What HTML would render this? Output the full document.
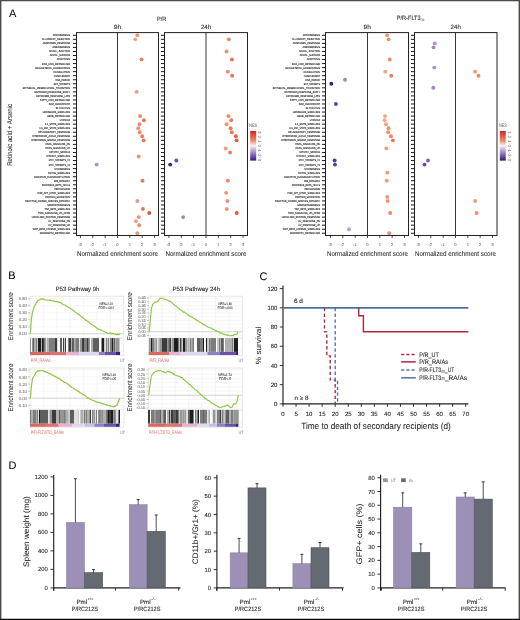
<!DOCTYPE html>
<html><head><meta charset="utf-8"><style>
html,body{margin:0;padding:0;background:#fff;width:520px;height:620px;overflow:hidden}
svg{display:block;font-family:"Liberation Sans", sans-serif}
</style></head><body>
<div style="position:absolute;left:0;top:0;width:520px;height:620px;will-change:transform">
<svg width="520" height="620" viewBox="0 0 520 620" text-rendering="geometricPrecision">
<text x="9.00" y="17.30" font-size="11" text-anchor="start" fill="#000" stroke="#000" stroke-width="0.050"  >A</text>
<text x="161.60" y="21.00" font-size="6.2" text-anchor="middle" fill="#333" stroke="#333" stroke-width="0.100" textLength="9.4" lengthAdjust="spacingAndGlyphs" >P/R</text>
<text x="117.50" y="29.00" font-size="6.2" text-anchor="middle" fill="#333" stroke="#333" stroke-width="0.100" textLength="7.4" lengthAdjust="spacingAndGlyphs" >9h</text>
<text x="206.10" y="29.00" font-size="6.2" text-anchor="middle" fill="#333" stroke="#333" stroke-width="0.100" textLength="10.3" lengthAdjust="spacingAndGlyphs" >24h</text>
<text transform="translate(11.80,134.85) rotate(-90)" font-size="7.0" text-anchor="middle" fill="#231f20" stroke="#231f20" stroke-width="0.060" textLength="62" lengthAdjust="spacingAndGlyphs">Retinoic acid + Arsenic</text>
<g transform="translate(70.00,0) scale(0.854,1)">
<text x="0" y="36.25" font-size="2.7" text-anchor="end" fill="#1e1e1e" stroke="#1e1e1e" stroke-width="0.1">ADIPOGENESIS</text>
<text x="0" y="40.29" font-size="2.7" text-anchor="end" fill="#1e1e1e" stroke="#1e1e1e" stroke-width="0.1">ALLOGRAFT_REJECTION</text>
<text x="0" y="44.33" font-size="2.7" text-anchor="end" fill="#1e1e1e" stroke="#1e1e1e" stroke-width="0.1">ANDROGEN_RESPONSE</text>
<text x="0" y="48.37" font-size="2.7" text-anchor="end" fill="#1e1e1e" stroke="#1e1e1e" stroke-width="0.1">ANGIOGENESIS</text>
<text x="0" y="52.41" font-size="2.7" text-anchor="end" fill="#1e1e1e" stroke="#1e1e1e" stroke-width="0.1">APICAL_JUNCTION</text>
<text x="0" y="56.45" font-size="2.7" text-anchor="end" fill="#1e1e1e" stroke="#1e1e1e" stroke-width="0.1">APICAL_SURFACE</text>
<text x="0" y="60.49" font-size="2.7" text-anchor="end" fill="#1e1e1e" stroke="#1e1e1e" stroke-width="0.1">APOPTOSIS</text>
<text x="0" y="64.53" font-size="2.7" text-anchor="end" fill="#1e1e1e" stroke="#1e1e1e" stroke-width="0.1">BILE_ACID_METABOLISM</text>
<text x="0" y="68.57" font-size="2.7" text-anchor="end" fill="#1e1e1e" stroke="#1e1e1e" stroke-width="0.1">CHOLESTEROL_HOMEOSTASIS</text>
<text x="0" y="72.61" font-size="2.7" text-anchor="end" fill="#1e1e1e" stroke="#1e1e1e" stroke-width="0.1">COAGULATION</text>
<text x="0" y="76.65" font-size="2.7" text-anchor="end" fill="#1e1e1e" stroke="#1e1e1e" stroke-width="0.1">COMPLEMENT</text>
<text x="0" y="80.69" font-size="2.7" text-anchor="end" fill="#1e1e1e" stroke="#1e1e1e" stroke-width="0.1">DNA_REPAIR</text>
<text x="0" y="84.73" font-size="2.7" text-anchor="end" fill="#1e1e1e" stroke="#1e1e1e" stroke-width="0.1">E2F_TARGETS</text>
<text x="0" y="88.77" font-size="2.7" text-anchor="end" fill="#1e1e1e" stroke="#1e1e1e" stroke-width="0.1">EPITHELIAL_MESENCHYMAL_TRANSITION</text>
<text x="0" y="92.81" font-size="2.7" text-anchor="end" fill="#1e1e1e" stroke="#1e1e1e" stroke-width="0.1">ESTROGEN_RESPONSE_EARLY</text>
<text x="0" y="96.85" font-size="2.7" text-anchor="end" fill="#1e1e1e" stroke="#1e1e1e" stroke-width="0.1">ESTROGEN_RESPONSE_LATE</text>
<text x="0" y="100.89" font-size="2.7" text-anchor="end" fill="#1e1e1e" stroke="#1e1e1e" stroke-width="0.1">FATTY_ACID_METABOLISM</text>
<text x="0" y="104.93" font-size="2.7" text-anchor="end" fill="#1e1e1e" stroke="#1e1e1e" stroke-width="0.1">G2M_CHECKPOINT</text>
<text x="0" y="108.97" font-size="2.7" text-anchor="end" fill="#1e1e1e" stroke="#1e1e1e" stroke-width="0.1">GLYCOLYSIS</text>
<text x="0" y="113.01" font-size="2.7" text-anchor="end" fill="#1e1e1e" stroke="#1e1e1e" stroke-width="0.1">HEDGEHOG_SIGNALING</text>
<text x="0" y="117.05" font-size="2.7" text-anchor="end" fill="#1e1e1e" stroke="#1e1e1e" stroke-width="0.1">HEME_METABOLISM</text>
<text x="0" y="121.09" font-size="2.7" text-anchor="end" fill="#1e1e1e" stroke="#1e1e1e" stroke-width="0.1">HYPOXIA</text>
<text x="0" y="125.13" font-size="2.7" text-anchor="end" fill="#1e1e1e" stroke="#1e1e1e" stroke-width="0.1">IL2_STAT5_SIGNALING</text>
<text x="0" y="129.17" font-size="2.7" text-anchor="end" fill="#1e1e1e" stroke="#1e1e1e" stroke-width="0.1">IL6_JAK_STAT3_SIGNALING</text>
<text x="0" y="133.21" font-size="2.7" text-anchor="end" fill="#1e1e1e" stroke="#1e1e1e" stroke-width="0.1">INFLAMMATORY_RESPONSE</text>
<text x="0" y="137.25" font-size="2.7" text-anchor="end" fill="#1e1e1e" stroke="#1e1e1e" stroke-width="0.1">INTERFERON_ALPHA_RESPONSE</text>
<text x="0" y="141.29" font-size="2.7" text-anchor="end" fill="#1e1e1e" stroke="#1e1e1e" stroke-width="0.1">INTERFERON_GAMMA_RESPONSE</text>
<text x="0" y="145.33" font-size="2.7" text-anchor="end" fill="#1e1e1e" stroke="#1e1e1e" stroke-width="0.1">KRAS_SIGNALING_DN</text>
<text x="0" y="149.37" font-size="2.7" text-anchor="end" fill="#1e1e1e" stroke="#1e1e1e" stroke-width="0.1">KRAS_SIGNALING_UP</text>
<text x="0" y="153.41" font-size="2.7" text-anchor="end" fill="#1e1e1e" stroke="#1e1e1e" stroke-width="0.1">MITOTIC_SPINDLE</text>
<text x="0" y="157.45" font-size="2.7" text-anchor="end" fill="#1e1e1e" stroke="#1e1e1e" stroke-width="0.1">MTORC1_SIGNALING</text>
<text x="0" y="161.49" font-size="2.7" text-anchor="end" fill="#1e1e1e" stroke="#1e1e1e" stroke-width="0.1">MYC_TARGETS_V1</text>
<text x="0" y="165.53" font-size="2.7" text-anchor="end" fill="#1e1e1e" stroke="#1e1e1e" stroke-width="0.1">MYC_TARGETS_V2</text>
<text x="0" y="169.57" font-size="2.7" text-anchor="end" fill="#1e1e1e" stroke="#1e1e1e" stroke-width="0.1">MYOGENESIS</text>
<text x="0" y="173.61" font-size="2.7" text-anchor="end" fill="#1e1e1e" stroke="#1e1e1e" stroke-width="0.1">NOTCH_SIGNALING</text>
<text x="0" y="177.65" font-size="2.7" text-anchor="end" fill="#1e1e1e" stroke="#1e1e1e" stroke-width="0.1">OXIDATIVE_PHOSPHORYLATION</text>
<text x="0" y="181.69" font-size="2.7" text-anchor="end" fill="#1e1e1e" stroke="#1e1e1e" stroke-width="0.1">P53_PATHWAY</text>
<text x="0" y="185.73" font-size="2.7" text-anchor="end" fill="#1e1e1e" stroke="#1e1e1e" stroke-width="0.1">PANCREAS_BETA_CELLS</text>
<text x="0" y="189.77" font-size="2.7" text-anchor="end" fill="#1e1e1e" stroke="#1e1e1e" stroke-width="0.1">PEROXISOME</text>
<text x="0" y="193.81" font-size="2.7" text-anchor="end" fill="#1e1e1e" stroke="#1e1e1e" stroke-width="0.1">PI3K_AKT_MTOR_SIGNALING</text>
<text x="0" y="197.85" font-size="2.7" text-anchor="end" fill="#1e1e1e" stroke="#1e1e1e" stroke-width="0.1">PROTEIN_SECRETION</text>
<text x="0" y="201.89" font-size="2.7" text-anchor="end" fill="#1e1e1e" stroke="#1e1e1e" stroke-width="0.1">REACTIVE_OXIGEN_SPECIES_PATHWAY</text>
<text x="0" y="205.93" font-size="2.7" text-anchor="end" fill="#1e1e1e" stroke="#1e1e1e" stroke-width="0.1">SPERMATOGENESIS</text>
<text x="0" y="209.97" font-size="2.7" text-anchor="end" fill="#1e1e1e" stroke="#1e1e1e" stroke-width="0.1">TGF_BETA_SIGNALING</text>
<text x="0" y="214.01" font-size="2.7" text-anchor="end" fill="#1e1e1e" stroke="#1e1e1e" stroke-width="0.1">TNFA_SIGNALING_VIA_NFKB</text>
<text x="0" y="218.05" font-size="2.7" text-anchor="end" fill="#1e1e1e" stroke="#1e1e1e" stroke-width="0.1">UNFOLDED_PROTEIN_RESPONSE</text>
<text x="0" y="222.09" font-size="2.7" text-anchor="end" fill="#1e1e1e" stroke="#1e1e1e" stroke-width="0.1">UV_RESPONSE_DN</text>
<text x="0" y="226.13" font-size="2.7" text-anchor="end" fill="#1e1e1e" stroke="#1e1e1e" stroke-width="0.1">UV_RESPONSE_UP</text>
<text x="0" y="230.17" font-size="2.7" text-anchor="end" fill="#1e1e1e" stroke="#1e1e1e" stroke-width="0.1">WNT_BETA_CATENIN_SIGNALING</text>
<text x="0" y="234.21" font-size="2.7" text-anchor="end" fill="#1e1e1e" stroke="#1e1e1e" stroke-width="0.1">XENOBIOTIC_METABOLISM</text>
</g>
<rect x="76.50" y="32.60" width="82.00" height="202.90" fill="none" stroke="#231f20" stroke-width="1.0"/>
<line x1="117.50" y1="32.60" x2="117.50" y2="235.50" stroke="#231f20" stroke-width="0.9" />
<path d="M72.90 35.30H76.50 M72.90 39.34H76.50 M72.90 43.38H76.50 M72.90 47.42H76.50 M72.90 51.46H76.50 M72.90 55.50H76.50 M72.90 59.54H76.50 M72.90 63.58H76.50 M72.90 67.62H76.50 M72.90 71.66H76.50 M72.90 75.70H76.50 M72.90 79.74H76.50 M72.90 83.78H76.50 M72.90 87.82H76.50 M72.90 91.86H76.50 M72.90 95.90H76.50 M72.90 99.94H76.50 M72.90 103.98H76.50 M72.90 108.02H76.50 M72.90 112.06H76.50 M72.90 116.10H76.50 M72.90 120.14H76.50 M72.90 124.18H76.50 M72.90 128.22H76.50 M72.90 132.26H76.50 M72.90 136.30H76.50 M72.90 140.34H76.50 M72.90 144.38H76.50 M72.90 148.42H76.50 M72.90 152.46H76.50 M72.90 156.50H76.50 M72.90 160.54H76.50 M72.90 164.58H76.50 M72.90 168.62H76.50 M72.90 172.66H76.50 M72.90 176.70H76.50 M72.90 180.74H76.50 M72.90 184.78H76.50 M72.90 188.82H76.50 M72.90 192.86H76.50 M72.90 196.90H76.50 M72.90 200.94H76.50 M72.90 204.98H76.50 M72.90 209.02H76.50 M72.90 213.06H76.50 M72.90 217.10H76.50 M72.90 221.14H76.50 M72.90 225.18H76.50 M72.90 229.22H76.50 M72.90 233.26H76.50" stroke="#1a1a1a" stroke-width="1.0"/>
<path d="M80.45 235.50V238.10 M92.80 235.50V238.10 M105.15 235.50V238.10 M117.50 235.50V238.10 M129.85 235.50V238.10 M142.20 235.50V238.10 M154.55 235.50V238.10" stroke="#231f20" stroke-width="0.8"/>
<text x="79.95" y="245.70" font-size="4.1" text-anchor="middle" fill="#707070" stroke="#707070" stroke-width="0.100"  >-3</text>
<text x="92.30" y="245.70" font-size="4.1" text-anchor="middle" fill="#707070" stroke="#707070" stroke-width="0.100"  >-2</text>
<text x="104.65" y="245.70" font-size="4.1" text-anchor="middle" fill="#707070" stroke="#707070" stroke-width="0.100"  >-1</text>
<text x="117.50" y="245.70" font-size="4.1" text-anchor="middle" fill="#707070" stroke="#707070" stroke-width="0.100"  >0</text>
<text x="129.85" y="245.70" font-size="4.1" text-anchor="middle" fill="#707070" stroke="#707070" stroke-width="0.100"  >1</text>
<text x="142.20" y="245.70" font-size="4.1" text-anchor="middle" fill="#707070" stroke="#707070" stroke-width="0.100"  >2</text>
<text x="154.55" y="245.70" font-size="4.1" text-anchor="middle" fill="#707070" stroke="#707070" stroke-width="0.100"  >3</text>
<text x="117.50" y="255.80" font-size="7.0" text-anchor="middle" fill="#231f20" stroke="#231f20" stroke-width="0.060" textLength="81.2" lengthAdjust="spacingAndGlyphs" >Normalized enrichment score</text>
<circle cx="137.38" cy="35.30" r="1.95" fill="#f19578"/>
<circle cx="135.28" cy="39.34" r="1.95" fill="#f2a286"/>
<circle cx="141.58" cy="59.54" r="1.95" fill="#ee7e5e"/>
<circle cx="136.64" cy="91.86" r="1.95" fill="#f29a7c"/>
<circle cx="140.10" cy="116.10" r="1.95" fill="#ef8667"/>
<circle cx="143.93" cy="120.14" r="1.95" fill="#eb7051"/>
<circle cx="139.48" cy="124.18" r="1.95" fill="#f0896b"/>
<circle cx="138.25" cy="128.22" r="1.95" fill="#f19072"/>
<circle cx="139.73" cy="132.26" r="1.95" fill="#f08869"/>
<circle cx="142.20" cy="136.30" r="1.95" fill="#ee7a5a"/>
<circle cx="143.68" cy="140.34" r="1.95" fill="#ec7253"/>
<circle cx="138.74" cy="156.50" r="1.95" fill="#f08e6f"/>
<circle cx="96.63" cy="164.58" r="1.95" fill="#ab8fcb"/>
<circle cx="142.57" cy="180.74" r="1.95" fill="#ed7858"/>
<circle cx="137.38" cy="200.94" r="1.95" fill="#f19578"/>
<circle cx="142.94" cy="209.02" r="1.95" fill="#ed7656"/>
<circle cx="149.24" cy="213.06" r="1.95" fill="#e15037"/>
<circle cx="138.74" cy="217.10" r="1.95" fill="#f08e6f"/>
<circle cx="135.90" cy="221.14" r="1.95" fill="#f29e81"/>
<circle cx="139.24" cy="225.18" r="1.95" fill="#f08b6c"/>
<circle cx="137.38" cy="233.26" r="1.95" fill="#f19578"/>
<rect x="164.50" y="32.60" width="83.00" height="202.90" fill="none" stroke="#231f20" stroke-width="1.0"/>
<line x1="206.00" y1="32.60" x2="206.00" y2="235.50" stroke="#231f20" stroke-width="0.9" />
<path d="M160.90 35.30H164.50 M160.90 39.34H164.50 M160.90 43.38H164.50 M160.90 47.42H164.50 M160.90 51.46H164.50 M160.90 55.50H164.50 M160.90 59.54H164.50 M160.90 63.58H164.50 M160.90 67.62H164.50 M160.90 71.66H164.50 M160.90 75.70H164.50 M160.90 79.74H164.50 M160.90 83.78H164.50 M160.90 87.82H164.50 M160.90 91.86H164.50 M160.90 95.90H164.50 M160.90 99.94H164.50 M160.90 103.98H164.50 M160.90 108.02H164.50 M160.90 112.06H164.50 M160.90 116.10H164.50 M160.90 120.14H164.50 M160.90 124.18H164.50 M160.90 128.22H164.50 M160.90 132.26H164.50 M160.90 136.30H164.50 M160.90 140.34H164.50 M160.90 144.38H164.50 M160.90 148.42H164.50 M160.90 152.46H164.50 M160.90 156.50H164.50 M160.90 160.54H164.50 M160.90 164.58H164.50 M160.90 168.62H164.50 M160.90 172.66H164.50 M160.90 176.70H164.50 M160.90 180.74H164.50 M160.90 184.78H164.50 M160.90 188.82H164.50 M160.90 192.86H164.50 M160.90 196.90H164.50 M160.90 200.94H164.50 M160.90 204.98H164.50 M160.90 209.02H164.50 M160.90 213.06H164.50 M160.90 217.10H164.50 M160.90 221.14H164.50 M160.90 225.18H164.50 M160.90 229.22H164.50 M160.90 233.26H164.50" stroke="#1a1a1a" stroke-width="1.0"/>
<path d="M168.95 235.50V238.10 M181.30 235.50V238.10 M193.65 235.50V238.10 M206.00 235.50V238.10 M218.35 235.50V238.10 M230.70 235.50V238.10 M243.05 235.50V238.10" stroke="#231f20" stroke-width="0.8"/>
<text x="168.45" y="245.70" font-size="4.1" text-anchor="middle" fill="#707070" stroke="#707070" stroke-width="0.100"  >-3</text>
<text x="180.80" y="245.70" font-size="4.1" text-anchor="middle" fill="#707070" stroke="#707070" stroke-width="0.100"  >-2</text>
<text x="193.15" y="245.70" font-size="4.1" text-anchor="middle" fill="#707070" stroke="#707070" stroke-width="0.100"  >-1</text>
<text x="206.00" y="245.70" font-size="4.1" text-anchor="middle" fill="#707070" stroke="#707070" stroke-width="0.100"  >0</text>
<text x="218.35" y="245.70" font-size="4.1" text-anchor="middle" fill="#707070" stroke="#707070" stroke-width="0.100"  >1</text>
<text x="230.70" y="245.70" font-size="4.1" text-anchor="middle" fill="#707070" stroke="#707070" stroke-width="0.100"  >2</text>
<text x="243.05" y="245.70" font-size="4.1" text-anchor="middle" fill="#707070" stroke="#707070" stroke-width="0.100"  >3</text>
<text x="206.00" y="255.80" font-size="7.0" text-anchor="middle" fill="#231f20" stroke="#231f20" stroke-width="0.060" textLength="81.2" lengthAdjust="spacingAndGlyphs" >Normalized enrichment score</text>
<circle cx="228.85" cy="39.34" r="1.95" fill="#ef8465"/>
<circle cx="226.62" cy="51.46" r="1.95" fill="#f19173"/>
<circle cx="231.94" cy="59.54" r="1.95" fill="#ec7354"/>
<circle cx="227.86" cy="71.66" r="1.95" fill="#f08a6b"/>
<circle cx="232.18" cy="75.70" r="1.95" fill="#ec7253"/>
<circle cx="228.48" cy="116.10" r="1.95" fill="#ef8768"/>
<circle cx="231.32" cy="120.14" r="1.95" fill="#ed7757"/>
<circle cx="226.50" cy="124.18" r="1.95" fill="#f19274"/>
<circle cx="230.58" cy="128.22" r="1.95" fill="#ee7b5b"/>
<circle cx="231.81" cy="132.26" r="1.95" fill="#ec7454"/>
<circle cx="235.89" cy="136.30" r="1.95" fill="#e65d40"/>
<circle cx="236.63" cy="140.34" r="1.95" fill="#e5583c"/>
<circle cx="225.76" cy="148.42" r="1.95" fill="#f19678"/>
<circle cx="230.08" cy="152.46" r="1.95" fill="#ee7e5e"/>
<circle cx="176.36" cy="160.54" r="1.95" fill="#744fad"/>
<circle cx="170.19" cy="164.58" r="1.95" fill="#382382"/>
<circle cx="227.86" cy="180.74" r="1.95" fill="#f08a6b"/>
<circle cx="226.13" cy="192.86" r="1.95" fill="#f19476"/>
<circle cx="227.37" cy="200.94" r="1.95" fill="#f08d6f"/>
<circle cx="226.75" cy="209.02" r="1.95" fill="#f19072"/>
<circle cx="236.75" cy="213.06" r="1.95" fill="#e5583c"/>
<circle cx="183.15" cy="217.10" r="1.95" fill="#a081c5"/>
<defs><linearGradient id="g250" x1="0" y1="0" x2="0" y2="1"><stop offset="0" stop-color="#c8281e"/><stop offset="0.33" stop-color="#ee8a6a"/><stop offset="0.5" stop-color="#f7f3f2"/><stop offset="0.67" stop-color="#b8a0d2"/><stop offset="1" stop-color="#2b1a78"/></linearGradient></defs>
<rect x="250.20" y="130.90" width="6.00" height="29.70" fill="url(#g250)" />
<text x="249.30" y="127.30" font-size="5.0" text-anchor="start" fill="#777" stroke="#777" stroke-width="0.100" textLength="7.8" lengthAdjust="spacingAndGlyphs" >NES</text>
<text transform="translate(257.90,132.20) rotate(90)" font-size="4.4" text-anchor="middle" fill="#777" stroke="#777" stroke-width="0.05">3</text>
<text transform="translate(257.90,136.67) rotate(90)" font-size="4.4" text-anchor="middle" fill="#777" stroke="#777" stroke-width="0.05">2</text>
<text transform="translate(257.90,141.14) rotate(90)" font-size="4.4" text-anchor="middle" fill="#777" stroke="#777" stroke-width="0.05">1</text>
<text transform="translate(257.90,145.61) rotate(90)" font-size="4.4" text-anchor="middle" fill="#777" stroke="#777" stroke-width="0.05">0</text>
<text transform="translate(257.90,150.08) rotate(90)" font-size="4.4" text-anchor="middle" fill="#777" stroke="#777" stroke-width="0.05">-1</text>
<text transform="translate(257.90,154.55) rotate(90)" font-size="4.4" text-anchor="middle" fill="#777" stroke="#777" stroke-width="0.05">-2</text>
<text transform="translate(257.90,159.02) rotate(90)" font-size="4.4" text-anchor="middle" fill="#777" stroke="#777" stroke-width="0.05">-3</text>
<text x="396.80" y="20.40" font-size="6.3" text-anchor="start" fill="#333" stroke="#333" stroke-width="0.100" textLength="23.8" lengthAdjust="spacingAndGlyphs" >P/R-FLT3</text>
<text x="420.80" y="20.80" font-size="3.3" text-anchor="start" fill="#555" stroke="#555" stroke-width="0.100" textLength="3.4" lengthAdjust="spacingAndGlyphs" >ITD</text>
<text x="367.20" y="29.00" font-size="6.2" text-anchor="middle" fill="#333" stroke="#333" stroke-width="0.100" textLength="7.4" lengthAdjust="spacingAndGlyphs" >9h</text>
<text x="455.70" y="29.00" font-size="6.2" text-anchor="middle" fill="#333" stroke="#333" stroke-width="0.100" textLength="10.3" lengthAdjust="spacingAndGlyphs" >24h</text>
<g transform="translate(320.00,0) scale(0.854,1)">
<text x="0" y="36.25" font-size="2.7" text-anchor="end" fill="#1e1e1e" stroke="#1e1e1e" stroke-width="0.1">ADIPOGENESIS</text>
<text x="0" y="40.29" font-size="2.7" text-anchor="end" fill="#1e1e1e" stroke="#1e1e1e" stroke-width="0.1">ALLOGRAFT_REJECTION</text>
<text x="0" y="44.33" font-size="2.7" text-anchor="end" fill="#1e1e1e" stroke="#1e1e1e" stroke-width="0.1">ANDROGEN_RESPONSE</text>
<text x="0" y="48.37" font-size="2.7" text-anchor="end" fill="#1e1e1e" stroke="#1e1e1e" stroke-width="0.1">ANGIOGENESIS</text>
<text x="0" y="52.41" font-size="2.7" text-anchor="end" fill="#1e1e1e" stroke="#1e1e1e" stroke-width="0.1">APICAL_JUNCTION</text>
<text x="0" y="56.45" font-size="2.7" text-anchor="end" fill="#1e1e1e" stroke="#1e1e1e" stroke-width="0.1">APICAL_SURFACE</text>
<text x="0" y="60.49" font-size="2.7" text-anchor="end" fill="#1e1e1e" stroke="#1e1e1e" stroke-width="0.1">APOPTOSIS</text>
<text x="0" y="64.53" font-size="2.7" text-anchor="end" fill="#1e1e1e" stroke="#1e1e1e" stroke-width="0.1">BILE_ACID_METABOLISM</text>
<text x="0" y="68.57" font-size="2.7" text-anchor="end" fill="#1e1e1e" stroke="#1e1e1e" stroke-width="0.1">CHOLESTEROL_HOMEOSTASIS</text>
<text x="0" y="72.61" font-size="2.7" text-anchor="end" fill="#1e1e1e" stroke="#1e1e1e" stroke-width="0.1">COAGULATION</text>
<text x="0" y="76.65" font-size="2.7" text-anchor="end" fill="#1e1e1e" stroke="#1e1e1e" stroke-width="0.1">COMPLEMENT</text>
<text x="0" y="80.69" font-size="2.7" text-anchor="end" fill="#1e1e1e" stroke="#1e1e1e" stroke-width="0.1">DNA_REPAIR</text>
<text x="0" y="84.73" font-size="2.7" text-anchor="end" fill="#1e1e1e" stroke="#1e1e1e" stroke-width="0.1">E2F_TARGETS</text>
<text x="0" y="88.77" font-size="2.7" text-anchor="end" fill="#1e1e1e" stroke="#1e1e1e" stroke-width="0.1">EPITHELIAL_MESENCHYMAL_TRANSITION</text>
<text x="0" y="92.81" font-size="2.7" text-anchor="end" fill="#1e1e1e" stroke="#1e1e1e" stroke-width="0.1">ESTROGEN_RESPONSE_EARLY</text>
<text x="0" y="96.85" font-size="2.7" text-anchor="end" fill="#1e1e1e" stroke="#1e1e1e" stroke-width="0.1">ESTROGEN_RESPONSE_LATE</text>
<text x="0" y="100.89" font-size="2.7" text-anchor="end" fill="#1e1e1e" stroke="#1e1e1e" stroke-width="0.1">FATTY_ACID_METABOLISM</text>
<text x="0" y="104.93" font-size="2.7" text-anchor="end" fill="#1e1e1e" stroke="#1e1e1e" stroke-width="0.1">G2M_CHECKPOINT</text>
<text x="0" y="108.97" font-size="2.7" text-anchor="end" fill="#1e1e1e" stroke="#1e1e1e" stroke-width="0.1">GLYCOLYSIS</text>
<text x="0" y="113.01" font-size="2.7" text-anchor="end" fill="#1e1e1e" stroke="#1e1e1e" stroke-width="0.1">HEDGEHOG_SIGNALING</text>
<text x="0" y="117.05" font-size="2.7" text-anchor="end" fill="#1e1e1e" stroke="#1e1e1e" stroke-width="0.1">HEME_METABOLISM</text>
<text x="0" y="121.09" font-size="2.7" text-anchor="end" fill="#1e1e1e" stroke="#1e1e1e" stroke-width="0.1">HYPOXIA</text>
<text x="0" y="125.13" font-size="2.7" text-anchor="end" fill="#1e1e1e" stroke="#1e1e1e" stroke-width="0.1">IL2_STAT5_SIGNALING</text>
<text x="0" y="129.17" font-size="2.7" text-anchor="end" fill="#1e1e1e" stroke="#1e1e1e" stroke-width="0.1">IL6_JAK_STAT3_SIGNALING</text>
<text x="0" y="133.21" font-size="2.7" text-anchor="end" fill="#1e1e1e" stroke="#1e1e1e" stroke-width="0.1">INFLAMMATORY_RESPONSE</text>
<text x="0" y="137.25" font-size="2.7" text-anchor="end" fill="#1e1e1e" stroke="#1e1e1e" stroke-width="0.1">INTERFERON_ALPHA_RESPONSE</text>
<text x="0" y="141.29" font-size="2.7" text-anchor="end" fill="#1e1e1e" stroke="#1e1e1e" stroke-width="0.1">INTERFERON_GAMMA_RESPONSE</text>
<text x="0" y="145.33" font-size="2.7" text-anchor="end" fill="#1e1e1e" stroke="#1e1e1e" stroke-width="0.1">KRAS_SIGNALING_DN</text>
<text x="0" y="149.37" font-size="2.7" text-anchor="end" fill="#1e1e1e" stroke="#1e1e1e" stroke-width="0.1">KRAS_SIGNALING_UP</text>
<text x="0" y="153.41" font-size="2.7" text-anchor="end" fill="#1e1e1e" stroke="#1e1e1e" stroke-width="0.1">MITOTIC_SPINDLE</text>
<text x="0" y="157.45" font-size="2.7" text-anchor="end" fill="#1e1e1e" stroke="#1e1e1e" stroke-width="0.1">MTORC1_SIGNALING</text>
<text x="0" y="161.49" font-size="2.7" text-anchor="end" fill="#1e1e1e" stroke="#1e1e1e" stroke-width="0.1">MYC_TARGETS_V1</text>
<text x="0" y="165.53" font-size="2.7" text-anchor="end" fill="#1e1e1e" stroke="#1e1e1e" stroke-width="0.1">MYC_TARGETS_V2</text>
<text x="0" y="169.57" font-size="2.7" text-anchor="end" fill="#1e1e1e" stroke="#1e1e1e" stroke-width="0.1">MYOGENESIS</text>
<text x="0" y="173.61" font-size="2.7" text-anchor="end" fill="#1e1e1e" stroke="#1e1e1e" stroke-width="0.1">NOTCH_SIGNALING</text>
<text x="0" y="177.65" font-size="2.7" text-anchor="end" fill="#1e1e1e" stroke="#1e1e1e" stroke-width="0.1">OXIDATIVE_PHOSPHORYLATION</text>
<text x="0" y="181.69" font-size="2.7" text-anchor="end" fill="#1e1e1e" stroke="#1e1e1e" stroke-width="0.1">P53_PATHWAY</text>
<text x="0" y="185.73" font-size="2.7" text-anchor="end" fill="#1e1e1e" stroke="#1e1e1e" stroke-width="0.1">PANCREAS_BETA_CELLS</text>
<text x="0" y="189.77" font-size="2.7" text-anchor="end" fill="#1e1e1e" stroke="#1e1e1e" stroke-width="0.1">PEROXISOME</text>
<text x="0" y="193.81" font-size="2.7" text-anchor="end" fill="#1e1e1e" stroke="#1e1e1e" stroke-width="0.1">PI3K_AKT_MTOR_SIGNALING</text>
<text x="0" y="197.85" font-size="2.7" text-anchor="end" fill="#1e1e1e" stroke="#1e1e1e" stroke-width="0.1">PROTEIN_SECRETION</text>
<text x="0" y="201.89" font-size="2.7" text-anchor="end" fill="#1e1e1e" stroke="#1e1e1e" stroke-width="0.1">REACTIVE_OXIGEN_SPECIES_PATHWAY</text>
<text x="0" y="205.93" font-size="2.7" text-anchor="end" fill="#1e1e1e" stroke="#1e1e1e" stroke-width="0.1">SPERMATOGENESIS</text>
<text x="0" y="209.97" font-size="2.7" text-anchor="end" fill="#1e1e1e" stroke="#1e1e1e" stroke-width="0.1">TGF_BETA_SIGNALING</text>
<text x="0" y="214.01" font-size="2.7" text-anchor="end" fill="#1e1e1e" stroke="#1e1e1e" stroke-width="0.1">TNFA_SIGNALING_VIA_NFKB</text>
<text x="0" y="218.05" font-size="2.7" text-anchor="end" fill="#1e1e1e" stroke="#1e1e1e" stroke-width="0.1">UNFOLDED_PROTEIN_RESPONSE</text>
<text x="0" y="222.09" font-size="2.7" text-anchor="end" fill="#1e1e1e" stroke="#1e1e1e" stroke-width="0.1">UV_RESPONSE_DN</text>
<text x="0" y="226.13" font-size="2.7" text-anchor="end" fill="#1e1e1e" stroke="#1e1e1e" stroke-width="0.1">UV_RESPONSE_UP</text>
<text x="0" y="230.17" font-size="2.7" text-anchor="end" fill="#1e1e1e" stroke="#1e1e1e" stroke-width="0.1">WNT_BETA_CATENIN_SIGNALING</text>
<text x="0" y="234.21" font-size="2.7" text-anchor="end" fill="#1e1e1e" stroke="#1e1e1e" stroke-width="0.1">XENOBIOTIC_METABOLISM</text>
</g>
<rect x="325.50" y="32.60" width="83.00" height="202.90" fill="none" stroke="#231f20" stroke-width="1.0"/>
<line x1="367.50" y1="32.60" x2="367.50" y2="235.50" stroke="#231f20" stroke-width="0.9" />
<path d="M321.90 35.30H325.50 M321.90 39.34H325.50 M321.90 43.38H325.50 M321.90 47.42H325.50 M321.90 51.46H325.50 M321.90 55.50H325.50 M321.90 59.54H325.50 M321.90 63.58H325.50 M321.90 67.62H325.50 M321.90 71.66H325.50 M321.90 75.70H325.50 M321.90 79.74H325.50 M321.90 83.78H325.50 M321.90 87.82H325.50 M321.90 91.86H325.50 M321.90 95.90H325.50 M321.90 99.94H325.50 M321.90 103.98H325.50 M321.90 108.02H325.50 M321.90 112.06H325.50 M321.90 116.10H325.50 M321.90 120.14H325.50 M321.90 124.18H325.50 M321.90 128.22H325.50 M321.90 132.26H325.50 M321.90 136.30H325.50 M321.90 140.34H325.50 M321.90 144.38H325.50 M321.90 148.42H325.50 M321.90 152.46H325.50 M321.90 156.50H325.50 M321.90 160.54H325.50 M321.90 164.58H325.50 M321.90 168.62H325.50 M321.90 172.66H325.50 M321.90 176.70H325.50 M321.90 180.74H325.50 M321.90 184.78H325.50 M321.90 188.82H325.50 M321.90 192.86H325.50 M321.90 196.90H325.50 M321.90 200.94H325.50 M321.90 204.98H325.50 M321.90 209.02H325.50 M321.90 213.06H325.50 M321.90 217.10H325.50 M321.90 221.14H325.50 M321.90 225.18H325.50 M321.90 229.22H325.50 M321.90 233.26H325.50" stroke="#1a1a1a" stroke-width="1.0"/>
<path d="M330.45 235.50V238.10 M342.80 235.50V238.10 M355.15 235.50V238.10 M367.50 235.50V238.10 M379.85 235.50V238.10 M392.20 235.50V238.10 M404.55 235.50V238.10" stroke="#231f20" stroke-width="0.8"/>
<text x="329.95" y="245.70" font-size="4.1" text-anchor="middle" fill="#707070" stroke="#707070" stroke-width="0.100"  >-3</text>
<text x="342.30" y="245.70" font-size="4.1" text-anchor="middle" fill="#707070" stroke="#707070" stroke-width="0.100"  >-2</text>
<text x="354.65" y="245.70" font-size="4.1" text-anchor="middle" fill="#707070" stroke="#707070" stroke-width="0.100"  >-1</text>
<text x="367.50" y="245.70" font-size="4.1" text-anchor="middle" fill="#707070" stroke="#707070" stroke-width="0.100"  >0</text>
<text x="379.85" y="245.70" font-size="4.1" text-anchor="middle" fill="#707070" stroke="#707070" stroke-width="0.100"  >1</text>
<text x="392.20" y="245.70" font-size="4.1" text-anchor="middle" fill="#707070" stroke="#707070" stroke-width="0.100"  >2</text>
<text x="404.55" y="245.70" font-size="4.1" text-anchor="middle" fill="#707070" stroke="#707070" stroke-width="0.100"  >3</text>
<text x="367.50" y="255.80" font-size="7.0" text-anchor="middle" fill="#231f20" stroke="#231f20" stroke-width="0.060" textLength="81.2" lengthAdjust="spacingAndGlyphs" >Normalized enrichment score</text>
<circle cx="387.14" cy="35.30" r="1.95" fill="#f19779"/>
<circle cx="388.62" cy="39.34" r="1.95" fill="#f08e70"/>
<circle cx="389.73" cy="59.54" r="1.95" fill="#f08869"/>
<circle cx="385.28" cy="71.66" r="1.95" fill="#f2a286"/>
<circle cx="391.21" cy="75.70" r="1.95" fill="#ef8060"/>
<circle cx="345.02" cy="79.74" r="1.95" fill="#a284c6"/>
<circle cx="331.31" cy="83.78" r="1.95" fill="#34207f"/>
<circle cx="335.88" cy="103.98" r="1.95" fill="#6441a2"/>
<circle cx="385.04" cy="116.10" r="1.95" fill="#f3a489"/>
<circle cx="384.67" cy="120.14" r="1.95" fill="#f3a78c"/>
<circle cx="385.90" cy="124.18" r="1.95" fill="#f29e81"/>
<circle cx="388.50" cy="128.22" r="1.95" fill="#f08f71"/>
<circle cx="388.12" cy="132.26" r="1.95" fill="#f19173"/>
<circle cx="390.96" cy="136.30" r="1.95" fill="#ef8162"/>
<circle cx="392.94" cy="140.34" r="1.95" fill="#ed7656"/>
<circle cx="386.40" cy="148.42" r="1.95" fill="#f29b7e"/>
<circle cx="334.65" cy="160.54" r="1.95" fill="#573899"/>
<circle cx="335.02" cy="164.58" r="1.95" fill="#5b3b9c"/>
<circle cx="387.26" cy="172.66" r="1.95" fill="#f19678"/>
<circle cx="386.77" cy="180.74" r="1.95" fill="#f2997b"/>
<circle cx="387.26" cy="196.90" r="1.95" fill="#f19678"/>
<circle cx="387.63" cy="200.94" r="1.95" fill="#f19476"/>
<circle cx="390.22" cy="213.06" r="1.95" fill="#ef8566"/>
<circle cx="348.98" cy="229.22" r="1.95" fill="#b8a0d2"/>
<circle cx="389.24" cy="233.26" r="1.95" fill="#f08b6c"/>
<rect x="414.50" y="32.60" width="82.50" height="202.90" fill="none" stroke="#231f20" stroke-width="1.0"/>
<line x1="455.50" y1="32.60" x2="455.50" y2="235.50" stroke="#231f20" stroke-width="0.9" />
<path d="M410.90 35.30H414.50 M410.90 39.34H414.50 M410.90 43.38H414.50 M410.90 47.42H414.50 M410.90 51.46H414.50 M410.90 55.50H414.50 M410.90 59.54H414.50 M410.90 63.58H414.50 M410.90 67.62H414.50 M410.90 71.66H414.50 M410.90 75.70H414.50 M410.90 79.74H414.50 M410.90 83.78H414.50 M410.90 87.82H414.50 M410.90 91.86H414.50 M410.90 95.90H414.50 M410.90 99.94H414.50 M410.90 103.98H414.50 M410.90 108.02H414.50 M410.90 112.06H414.50 M410.90 116.10H414.50 M410.90 120.14H414.50 M410.90 124.18H414.50 M410.90 128.22H414.50 M410.90 132.26H414.50 M410.90 136.30H414.50 M410.90 140.34H414.50 M410.90 144.38H414.50 M410.90 148.42H414.50 M410.90 152.46H414.50 M410.90 156.50H414.50 M410.90 160.54H414.50 M410.90 164.58H414.50 M410.90 168.62H414.50 M410.90 172.66H414.50 M410.90 176.70H414.50 M410.90 180.74H414.50 M410.90 184.78H414.50 M410.90 188.82H414.50 M410.90 192.86H414.50 M410.90 196.90H414.50 M410.90 200.94H414.50 M410.90 204.98H414.50 M410.90 209.02H414.50 M410.90 213.06H414.50 M410.90 217.10H414.50 M410.90 221.14H414.50 M410.90 225.18H414.50 M410.90 229.22H414.50 M410.90 233.26H414.50" stroke="#1a1a1a" stroke-width="1.0"/>
<path d="M418.45 235.50V238.10 M430.80 235.50V238.10 M443.15 235.50V238.10 M455.50 235.50V238.10 M467.85 235.50V238.10 M480.20 235.50V238.10 M492.55 235.50V238.10" stroke="#231f20" stroke-width="0.8"/>
<text x="417.95" y="245.70" font-size="4.1" text-anchor="middle" fill="#707070" stroke="#707070" stroke-width="0.100"  >-3</text>
<text x="430.30" y="245.70" font-size="4.1" text-anchor="middle" fill="#707070" stroke="#707070" stroke-width="0.100"  >-2</text>
<text x="442.65" y="245.70" font-size="4.1" text-anchor="middle" fill="#707070" stroke="#707070" stroke-width="0.100"  >-1</text>
<text x="455.50" y="245.70" font-size="4.1" text-anchor="middle" fill="#707070" stroke="#707070" stroke-width="0.100"  >0</text>
<text x="467.85" y="245.70" font-size="4.1" text-anchor="middle" fill="#707070" stroke="#707070" stroke-width="0.100"  >1</text>
<text x="480.20" y="245.70" font-size="4.1" text-anchor="middle" fill="#707070" stroke="#707070" stroke-width="0.100"  >2</text>
<text x="492.55" y="245.70" font-size="4.1" text-anchor="middle" fill="#707070" stroke="#707070" stroke-width="0.100"  >3</text>
<text x="455.50" y="255.80" font-size="7.0" text-anchor="middle" fill="#231f20" stroke="#231f20" stroke-width="0.060" textLength="81.2" lengthAdjust="spacingAndGlyphs" >Normalized enrichment score</text>
<circle cx="434.75" cy="43.38" r="1.95" fill="#ac90cb"/>
<circle cx="433.52" cy="47.42" r="1.95" fill="#a587c7"/>
<circle cx="434.26" cy="67.62" r="1.95" fill="#a98dca"/>
<circle cx="475.14" cy="71.66" r="1.95" fill="#f19779"/>
<circle cx="478.47" cy="75.70" r="1.95" fill="#ef8465"/>
<circle cx="433.27" cy="87.82" r="1.95" fill="#a486c7"/>
<circle cx="427.96" cy="160.54" r="1.95" fill="#835fb4"/>
<circle cx="424.50" cy="164.58" r="1.95" fill="#6b45a7"/>
<circle cx="475.14" cy="200.94" r="1.95" fill="#f19779"/>
<circle cx="476.62" cy="213.06" r="1.95" fill="#f08e70"/>
<defs><linearGradient id="g499" x1="0" y1="0" x2="0" y2="1"><stop offset="0" stop-color="#c8281e"/><stop offset="0.33" stop-color="#ee8a6a"/><stop offset="0.5" stop-color="#f7f3f2"/><stop offset="0.67" stop-color="#b8a0d2"/><stop offset="1" stop-color="#2b1a78"/></linearGradient></defs>
<rect x="499.80" y="130.90" width="6.00" height="29.70" fill="url(#g499)" />
<text x="498.90" y="127.30" font-size="5.0" text-anchor="start" fill="#777" stroke="#777" stroke-width="0.100" textLength="7.8" lengthAdjust="spacingAndGlyphs" >NES</text>
<text transform="translate(507.50,132.20) rotate(90)" font-size="4.4" text-anchor="middle" fill="#777" stroke="#777" stroke-width="0.05">3</text>
<text transform="translate(507.50,136.67) rotate(90)" font-size="4.4" text-anchor="middle" fill="#777" stroke="#777" stroke-width="0.05">2</text>
<text transform="translate(507.50,141.14) rotate(90)" font-size="4.4" text-anchor="middle" fill="#777" stroke="#777" stroke-width="0.05">1</text>
<text transform="translate(507.50,145.61) rotate(90)" font-size="4.4" text-anchor="middle" fill="#777" stroke="#777" stroke-width="0.05">0</text>
<text transform="translate(507.50,150.08) rotate(90)" font-size="4.4" text-anchor="middle" fill="#777" stroke="#777" stroke-width="0.05">-1</text>
<text transform="translate(507.50,154.55) rotate(90)" font-size="4.4" text-anchor="middle" fill="#777" stroke="#777" stroke-width="0.05">-2</text>
<text transform="translate(507.50,159.02) rotate(90)" font-size="4.4" text-anchor="middle" fill="#777" stroke="#777" stroke-width="0.05">-3</text>
<text x="8.20" y="279.30" font-size="11" text-anchor="start" fill="#000" stroke="#000" stroke-width="0.050"  >B</text>
<rect x="30.00" y="296.20" width="93.80" height="59.10" fill="none" stroke="#e4e0da" stroke-width="0.8"/>
<line x1="43.40" y1="296.20" x2="43.40" y2="338.10" stroke="#f0f0f0" stroke-width="0.6" />
<line x1="56.80" y1="296.20" x2="56.80" y2="338.10" stroke="#f0f0f0" stroke-width="0.6" />
<line x1="70.20" y1="296.20" x2="70.20" y2="338.10" stroke="#f0f0f0" stroke-width="0.6" />
<line x1="83.60" y1="296.20" x2="83.60" y2="338.10" stroke="#f0f0f0" stroke-width="0.6" />
<line x1="97.00" y1="296.20" x2="97.00" y2="338.10" stroke="#f0f0f0" stroke-width="0.6" />
<line x1="110.40" y1="296.20" x2="110.40" y2="338.10" stroke="#f0f0f0" stroke-width="0.6" />
<line x1="30.00" y1="298.70" x2="123.80" y2="298.70" stroke="#f0f0f0" stroke-width="0.6" />
<line x1="30.00" y1="305.72" x2="123.80" y2="305.72" stroke="#f0f0f0" stroke-width="0.6" />
<line x1="30.00" y1="312.74" x2="123.80" y2="312.74" stroke="#f0f0f0" stroke-width="0.6" />
<line x1="30.00" y1="319.76" x2="123.80" y2="319.76" stroke="#f0f0f0" stroke-width="0.6" />
<line x1="30.00" y1="326.78" x2="123.80" y2="326.78" stroke="#f0f0f0" stroke-width="0.6" />
<line x1="30.00" y1="333.80" x2="123.80" y2="333.80" stroke="#f0f0f0" stroke-width="0.6" />
<line x1="30.00" y1="333.80" x2="123.80" y2="333.80" stroke="#c4c4c4" stroke-width="0.7" />
<line x1="30.00" y1="338.10" x2="123.80" y2="338.10" stroke="#d8d8d8" stroke-width="0.7" />
<line x1="30.00" y1="350.70" x2="123.80" y2="350.70" stroke="#e8e8e8" stroke-width="0.5" />
<text x="27.00" y="300.25" font-size="4.3" text-anchor="end" fill="#7a7a7a" stroke="#7a7a7a" stroke-width="0.100"  >0.50</text>
<line x1="28.20" y1="298.70" x2="30.00" y2="298.70" stroke="#999" stroke-width="0.6" />
<text x="27.00" y="307.27" font-size="4.3" text-anchor="end" fill="#7a7a7a" stroke="#7a7a7a" stroke-width="0.100"  >0.40</text>
<line x1="28.20" y1="305.72" x2="30.00" y2="305.72" stroke="#999" stroke-width="0.6" />
<text x="27.00" y="314.29" font-size="4.3" text-anchor="end" fill="#7a7a7a" stroke="#7a7a7a" stroke-width="0.100"  >0.30</text>
<line x1="28.20" y1="312.74" x2="30.00" y2="312.74" stroke="#999" stroke-width="0.6" />
<text x="27.00" y="321.31" font-size="4.3" text-anchor="end" fill="#7a7a7a" stroke="#7a7a7a" stroke-width="0.100"  >0.20</text>
<line x1="28.20" y1="319.76" x2="30.00" y2="319.76" stroke="#999" stroke-width="0.6" />
<text x="27.00" y="328.33" font-size="4.3" text-anchor="end" fill="#7a7a7a" stroke="#7a7a7a" stroke-width="0.100"  >0.10</text>
<line x1="28.20" y1="326.78" x2="30.00" y2="326.78" stroke="#999" stroke-width="0.6" />
<text x="27.00" y="335.35" font-size="4.3" text-anchor="end" fill="#7a7a7a" stroke="#7a7a7a" stroke-width="0.100"  >0.00</text>
<line x1="28.20" y1="333.80" x2="30.00" y2="333.80" stroke="#999" stroke-width="0.6" />
<rect x="30" y="338.10" width="1" height="13.80" fill="#969696"/>
<rect x="31" y="338.10" width="1" height="13.80" fill="#fafafa"/>
<rect x="32" y="338.10" width="1" height="13.80" fill="#969696"/>
<rect x="33" y="338.10" width="1" height="13.80" fill="#5f5f5f"/>
<rect x="34" y="338.10" width="1" height="13.80" fill="#afafaf"/>
<rect x="35" y="338.10" width="1" height="13.80" fill="#afafaf"/>
<rect x="36" y="338.10" width="1" height="13.80" fill="#7d7d7d"/>
<rect x="37" y="338.10" width="1" height="13.80" fill="#c8c8c8"/>
<rect x="38" y="338.10" width="1" height="13.80" fill="#1e1e1e"/>
<rect x="39" y="338.10" width="1" height="13.80" fill="#1e1e1e"/>
<rect x="40" y="338.10" width="1" height="13.80" fill="#1e1e1e"/>
<rect x="41" y="338.10" width="1" height="13.80" fill="#afafaf"/>
<rect x="42" y="338.10" width="1" height="13.80" fill="#1e1e1e"/>
<rect x="43" y="338.10" width="1" height="13.80" fill="#3c3c3c"/>
<rect x="44" y="338.10" width="1" height="13.80" fill="#7d7d7d"/>
<rect x="45" y="338.10" width="1" height="13.80" fill="#969696"/>
<rect x="46" y="338.10" width="1" height="13.80" fill="#e1e1e1"/>
<rect x="47" y="338.10" width="1" height="13.80" fill="#afafaf"/>
<rect x="48" y="338.10" width="1" height="13.80" fill="#afafaf"/>
<rect x="49" y="338.10" width="1" height="13.80" fill="#7d7d7d"/>
<rect x="50" y="338.10" width="1" height="13.80" fill="#7d7d7d"/>
<rect x="51" y="338.10" width="1" height="13.80" fill="#7d7d7d"/>
<rect x="52" y="338.10" width="1" height="13.80" fill="#7d7d7d"/>
<rect x="53" y="338.10" width="1" height="13.80" fill="#7d7d7d"/>
<rect x="54" y="338.10" width="1" height="13.80" fill="#7d7d7d"/>
<rect x="55" y="338.10" width="1" height="13.80" fill="#3c3c3c"/>
<rect x="56" y="338.10" width="1" height="13.80" fill="#3c3c3c"/>
<rect x="57" y="338.10" width="1" height="13.80" fill="#e1e1e1"/>
<rect x="58" y="338.10" width="1" height="13.80" fill="#fafafa"/>
<rect x="59" y="338.10" width="1" height="13.80" fill="#fafafa"/>
<rect x="60" y="338.10" width="1" height="13.80" fill="#5f5f5f"/>
<rect x="61" y="338.10" width="1" height="13.80" fill="#5f5f5f"/>
<rect x="62" y="338.10" width="1" height="13.80" fill="#fafafa"/>
<rect x="63" y="338.10" width="1" height="13.80" fill="#3c3c3c"/>
<rect x="64" y="338.10" width="1" height="13.80" fill="#c8c8c8"/>
<rect x="65" y="338.10" width="1" height="13.80" fill="#3c3c3c"/>
<rect x="66" y="338.10" width="1" height="13.80" fill="#fafafa"/>
<rect x="67" y="338.10" width="1" height="13.80" fill="#fafafa"/>
<rect x="68" y="338.10" width="1" height="13.80" fill="#7d7d7d"/>
<rect x="69" y="338.10" width="1" height="13.80" fill="#3c3c3c"/>
<rect x="70" y="338.10" width="1" height="13.80" fill="#3c3c3c"/>
<rect x="71" y="338.10" width="1" height="13.80" fill="#afafaf"/>
<rect x="72" y="338.10" width="1" height="13.80" fill="#5f5f5f"/>
<rect x="73" y="338.10" width="1" height="13.80" fill="#5f5f5f"/>
<rect x="74" y="338.10" width="1" height="13.80" fill="#afafaf"/>
<rect x="75" y="338.10" width="1" height="13.80" fill="#969696"/>
<rect x="76" y="338.10" width="1" height="13.80" fill="#7d7d7d"/>
<rect x="77" y="338.10" width="1" height="13.80" fill="#7d7d7d"/>
<rect x="78" y="338.10" width="1" height="13.80" fill="#7d7d7d"/>
<rect x="79" y="338.10" width="1" height="13.80" fill="#e1e1e1"/>
<rect x="80" y="338.10" width="1" height="13.80" fill="#969696"/>
<rect x="81" y="338.10" width="1" height="13.80" fill="#969696"/>
<rect x="82" y="338.10" width="1" height="13.80" fill="#3c3c3c"/>
<rect x="83" y="338.10" width="1" height="13.80" fill="#3c3c3c"/>
<rect x="84" y="338.10" width="1" height="13.80" fill="#7d7d7d"/>
<rect x="85" y="338.10" width="1" height="13.80" fill="#7d7d7d"/>
<rect x="86" y="338.10" width="1" height="13.80" fill="#7d7d7d"/>
<rect x="87" y="338.10" width="1" height="13.80" fill="#3c3c3c"/>
<rect x="88" y="338.10" width="1" height="13.80" fill="#7d7d7d"/>
<rect x="89" y="338.10" width="1" height="13.80" fill="#969696"/>
<rect x="90" y="338.10" width="1" height="13.80" fill="#fafafa"/>
<rect x="91" y="338.10" width="1" height="13.80" fill="#afafaf"/>
<rect x="92" y="338.10" width="1" height="13.80" fill="#afafaf"/>
<rect x="93" y="338.10" width="1" height="13.80" fill="#5f5f5f"/>
<rect x="94" y="338.10" width="1" height="13.80" fill="#5f5f5f"/>
<rect x="95" y="338.10" width="1" height="13.80" fill="#5f5f5f"/>
<rect x="96" y="338.10" width="1" height="13.80" fill="#5f5f5f"/>
<rect x="97" y="338.10" width="1" height="13.80" fill="#5f5f5f"/>
<rect x="98" y="338.10" width="1" height="13.80" fill="#5f5f5f"/>
<rect x="99" y="338.10" width="1" height="13.80" fill="#fafafa"/>
<rect x="100" y="338.10" width="1" height="13.80" fill="#fafafa"/>
<rect x="101" y="338.10" width="1" height="13.80" fill="#969696"/>
<rect x="102" y="338.10" width="1" height="13.80" fill="#1e1e1e"/>
<rect x="103" y="338.10" width="1" height="13.80" fill="#1e1e1e"/>
<rect x="104" y="338.10" width="1" height="13.80" fill="#c8c8c8"/>
<rect x="105" y="338.10" width="1" height="13.80" fill="#e1e1e1"/>
<rect x="106" y="338.10" width="1" height="13.80" fill="#7d7d7d"/>
<rect x="107" y="338.10" width="1" height="13.80" fill="#c8c8c8"/>
<rect x="108" y="338.10" width="1" height="13.80" fill="#7d7d7d"/>
<rect x="109" y="338.10" width="1" height="13.80" fill="#e1e1e1"/>
<rect x="110" y="338.10" width="1" height="13.80" fill="#7d7d7d"/>
<rect x="111" y="338.10" width="1" height="13.80" fill="#7d7d7d"/>
<rect x="112" y="338.10" width="1" height="13.80" fill="#1e1e1e"/>
<rect x="113" y="338.10" width="1" height="13.80" fill="#969696"/>
<rect x="114" y="338.10" width="1" height="13.80" fill="#5f5f5f"/>
<rect x="115" y="338.10" width="1" height="13.80" fill="#afafaf"/>
<rect x="116" y="338.10" width="1" height="13.80" fill="#969696"/>
<rect x="117" y="338.10" width="1" height="13.80" fill="#969696"/>
<rect x="118" y="338.10" width="1" height="13.80" fill="#969696"/>
<rect x="119" y="338.10" width="1" height="13.80" fill="#c8c8c8"/>
<rect x="30.00" y="351.90" width="20.05" height="3.10" fill="#da6862" />
<rect x="50.00" y="351.90" width="16.25" height="3.10" fill="#e07272" />
<rect x="66.20" y="351.90" width="13.15" height="3.10" fill="#e4b2d2" />
<rect x="79.30" y="351.90" width="19.65" height="3.10" fill="#dcd6ee" />
<rect x="98.90" y="351.90" width="5.95" height="3.10" fill="#8c82c8" />
<rect x="104.80" y="351.90" width="10.95" height="3.10" fill="#6a54aa" />
<rect x="115.70" y="351.90" width="4.35" height="3.10" fill="#3a1f82" />
<polyline points="30.50,333.75 31.25,320.08 32.50,312.18 33.50,308.96 34.50,305.82 35.33,304.95 36.17,303.10 37.00,301.67 37.85,300.32 38.70,300.37 39.55,299.73 40.40,299.46 41.25,298.59 42.19,299.39 43.12,298.74 44.06,299.35 45.00,299.71 45.94,299.99 46.88,299.96 47.81,300.06 48.75,300.26 49.58,300.50 50.42,300.12 51.25,300.54 52.08,300.86 52.92,300.96 53.75,300.68 54.64,301.26 55.54,301.58 56.43,301.57 57.32,301.86 58.21,301.89 59.11,302.32 60.00,302.60 60.89,302.59 61.79,303.55 62.68,304.34 63.57,304.70 64.46,305.03 65.36,305.19 66.25,305.96 67.14,306.43 68.04,306.91 68.93,307.88 69.82,307.80 70.71,309.01 71.61,308.97 72.50,310.09 73.33,310.59 74.17,310.98 75.00,312.01 75.83,312.44 76.67,313.16 77.50,314.05 78.33,314.06 79.17,314.45 80.00,315.32 80.83,316.30 81.67,316.51 82.50,317.12 83.33,318.42 84.17,318.84 85.00,319.28 85.83,320.32 86.67,320.46 87.50,321.40 88.33,321.59 89.17,322.41 90.00,323.36 90.83,324.07 91.67,324.65 92.50,324.81 93.33,325.60 94.17,325.97 95.00,326.42 95.83,327.25 96.67,328.05 97.50,328.56 98.33,328.94 99.17,329.66 100.00,329.55 100.83,329.95 101.67,330.71 102.50,331.05 103.33,331.28 104.17,331.76 105.00,332.24 105.83,332.41 106.67,332.54 107.50,333.31 108.39,333.54 109.29,333.17 110.18,332.94 111.07,333.01 111.96,333.87 112.86,333.23 113.75,333.94 114.58,334.02 115.42,333.99 116.25,334.64 117.08,334.15 117.92,334.46 118.75,334.96 120.00,333.75" fill="none" stroke="#8cc63f" stroke-width="1.15" stroke-linejoin="round"/>
<text x="106.30" y="304.70" font-size="3.5" text-anchor="middle" fill="#444" stroke="#444" stroke-width="0.100" textLength="13.5" lengthAdjust="spacingAndGlyphs" >NES=2.02</text>
<text x="106.30" y="308.60" font-size="3.5" text-anchor="middle" fill="#444" stroke="#444" stroke-width="0.100" textLength="15.5" lengthAdjust="spacingAndGlyphs" >FDR&lt;.001</text>
<text x="30.80" y="361.90" font-size="5.0" fill="#e07874" stroke="#e07874" stroke-width="0.05" textLength="19.7" lengthAdjust="spacingAndGlyphs">P/R_RA/As</text>
<text x="125.00" y="361.90" font-size="4.6" text-anchor="end" fill="#7a74bc" textLength="5.2" lengthAdjust="spacingAndGlyphs">UT</text>
<rect x="148.75" y="296.20" width="93.75" height="59.10" fill="none" stroke="#e4e0da" stroke-width="0.8"/>
<line x1="162.14" y1="296.20" x2="162.14" y2="338.10" stroke="#f0f0f0" stroke-width="0.6" />
<line x1="175.54" y1="296.20" x2="175.54" y2="338.10" stroke="#f0f0f0" stroke-width="0.6" />
<line x1="188.93" y1="296.20" x2="188.93" y2="338.10" stroke="#f0f0f0" stroke-width="0.6" />
<line x1="202.32" y1="296.20" x2="202.32" y2="338.10" stroke="#f0f0f0" stroke-width="0.6" />
<line x1="215.71" y1="296.20" x2="215.71" y2="338.10" stroke="#f0f0f0" stroke-width="0.6" />
<line x1="229.11" y1="296.20" x2="229.11" y2="338.10" stroke="#f0f0f0" stroke-width="0.6" />
<line x1="148.75" y1="298.00" x2="242.50" y2="298.00" stroke="#f0f0f0" stroke-width="0.6" />
<line x1="148.75" y1="301.75" x2="242.50" y2="301.75" stroke="#f0f0f0" stroke-width="0.6" />
<line x1="148.75" y1="305.50" x2="242.50" y2="305.50" stroke="#f0f0f0" stroke-width="0.6" />
<line x1="148.75" y1="309.25" x2="242.50" y2="309.25" stroke="#f0f0f0" stroke-width="0.6" />
<line x1="148.75" y1="313.00" x2="242.50" y2="313.00" stroke="#f0f0f0" stroke-width="0.6" />
<line x1="148.75" y1="316.75" x2="242.50" y2="316.75" stroke="#f0f0f0" stroke-width="0.6" />
<line x1="148.75" y1="320.50" x2="242.50" y2="320.50" stroke="#f0f0f0" stroke-width="0.6" />
<line x1="148.75" y1="324.25" x2="242.50" y2="324.25" stroke="#f0f0f0" stroke-width="0.6" />
<line x1="148.75" y1="328.00" x2="242.50" y2="328.00" stroke="#f0f0f0" stroke-width="0.6" />
<line x1="148.75" y1="331.75" x2="242.50" y2="331.75" stroke="#f0f0f0" stroke-width="0.6" />
<line x1="148.75" y1="335.50" x2="242.50" y2="335.50" stroke="#f0f0f0" stroke-width="0.6" />
<line x1="148.75" y1="331.75" x2="242.50" y2="331.75" stroke="#c4c4c4" stroke-width="0.7" />
<line x1="148.75" y1="338.10" x2="242.50" y2="338.10" stroke="#d8d8d8" stroke-width="0.7" />
<line x1="148.75" y1="350.70" x2="242.50" y2="350.70" stroke="#e8e8e8" stroke-width="0.5" />
<text x="145.75" y="299.40" font-size="3.9" text-anchor="end" fill="#7a7a7a" stroke="#7a7a7a" stroke-width="0.100"  >0.45</text>
<line x1="146.95" y1="298.00" x2="148.75" y2="298.00" stroke="#999" stroke-width="0.6" />
<text x="145.75" y="303.15" font-size="3.9" text-anchor="end" fill="#7a7a7a" stroke="#7a7a7a" stroke-width="0.100"  >0.40</text>
<line x1="146.95" y1="301.75" x2="148.75" y2="301.75" stroke="#999" stroke-width="0.6" />
<text x="145.75" y="306.90" font-size="3.9" text-anchor="end" fill="#7a7a7a" stroke="#7a7a7a" stroke-width="0.100"  >0.35</text>
<line x1="146.95" y1="305.50" x2="148.75" y2="305.50" stroke="#999" stroke-width="0.6" />
<text x="145.75" y="310.65" font-size="3.9" text-anchor="end" fill="#7a7a7a" stroke="#7a7a7a" stroke-width="0.100"  >0.30</text>
<line x1="146.95" y1="309.25" x2="148.75" y2="309.25" stroke="#999" stroke-width="0.6" />
<text x="145.75" y="314.40" font-size="3.9" text-anchor="end" fill="#7a7a7a" stroke="#7a7a7a" stroke-width="0.100"  >0.25</text>
<line x1="146.95" y1="313.00" x2="148.75" y2="313.00" stroke="#999" stroke-width="0.6" />
<text x="145.75" y="318.15" font-size="3.9" text-anchor="end" fill="#7a7a7a" stroke="#7a7a7a" stroke-width="0.100"  >0.20</text>
<line x1="146.95" y1="316.75" x2="148.75" y2="316.75" stroke="#999" stroke-width="0.6" />
<text x="145.75" y="321.90" font-size="3.9" text-anchor="end" fill="#7a7a7a" stroke="#7a7a7a" stroke-width="0.100"  >0.15</text>
<line x1="146.95" y1="320.50" x2="148.75" y2="320.50" stroke="#999" stroke-width="0.6" />
<text x="145.75" y="325.65" font-size="3.9" text-anchor="end" fill="#7a7a7a" stroke="#7a7a7a" stroke-width="0.100"  >0.10</text>
<line x1="146.95" y1="324.25" x2="148.75" y2="324.25" stroke="#999" stroke-width="0.6" />
<text x="145.75" y="329.40" font-size="3.9" text-anchor="end" fill="#7a7a7a" stroke="#7a7a7a" stroke-width="0.100"  >0.05</text>
<line x1="146.95" y1="328.00" x2="148.75" y2="328.00" stroke="#999" stroke-width="0.6" />
<text x="145.75" y="333.15" font-size="3.9" text-anchor="end" fill="#7a7a7a" stroke="#7a7a7a" stroke-width="0.100"  >0.00</text>
<line x1="146.95" y1="331.75" x2="148.75" y2="331.75" stroke="#999" stroke-width="0.6" />
<text x="145.75" y="336.90" font-size="3.9" text-anchor="end" fill="#7a7a7a" stroke="#7a7a7a" stroke-width="0.100"  >-0.05</text>
<line x1="146.95" y1="335.50" x2="148.75" y2="335.50" stroke="#999" stroke-width="0.6" />
<rect x="149" y="338.10" width="1" height="13.80" fill="#969696"/>
<rect x="150" y="338.10" width="1" height="13.80" fill="#afafaf"/>
<rect x="151" y="338.10" width="1" height="13.80" fill="#1e1e1e"/>
<rect x="152" y="338.10" width="1" height="13.80" fill="#7d7d7d"/>
<rect x="153" y="338.10" width="1" height="13.80" fill="#7d7d7d"/>
<rect x="154" y="338.10" width="1" height="13.80" fill="#afafaf"/>
<rect x="155" y="338.10" width="1" height="13.80" fill="#afafaf"/>
<rect x="156" y="338.10" width="1" height="13.80" fill="#969696"/>
<rect x="157" y="338.10" width="1" height="13.80" fill="#e1e1e1"/>
<rect x="158" y="338.10" width="1" height="13.80" fill="#c8c8c8"/>
<rect x="159" y="338.10" width="1" height="13.80" fill="#afafaf"/>
<rect x="160" y="338.10" width="1" height="13.80" fill="#969696"/>
<rect x="161" y="338.10" width="1" height="13.80" fill="#969696"/>
<rect x="162" y="338.10" width="1" height="13.80" fill="#3c3c3c"/>
<rect x="163" y="338.10" width="1" height="13.80" fill="#3c3c3c"/>
<rect x="164" y="338.10" width="1" height="13.80" fill="#3c3c3c"/>
<rect x="165" y="338.10" width="1" height="13.80" fill="#3c3c3c"/>
<rect x="166" y="338.10" width="1" height="13.80" fill="#3c3c3c"/>
<rect x="167" y="338.10" width="1" height="13.80" fill="#969696"/>
<rect x="168" y="338.10" width="1" height="13.80" fill="#7d7d7d"/>
<rect x="169" y="338.10" width="1" height="13.80" fill="#5f5f5f"/>
<rect x="170" y="338.10" width="1" height="13.80" fill="#3c3c3c"/>
<rect x="171" y="338.10" width="1" height="13.80" fill="#c8c8c8"/>
<rect x="172" y="338.10" width="1" height="13.80" fill="#969696"/>
<rect x="173" y="338.10" width="1" height="13.80" fill="#969696"/>
<rect x="174" y="338.10" width="1" height="13.80" fill="#1e1e1e"/>
<rect x="175" y="338.10" width="1" height="13.80" fill="#1e1e1e"/>
<rect x="176" y="338.10" width="1" height="13.80" fill="#1e1e1e"/>
<rect x="177" y="338.10" width="1" height="13.80" fill="#1e1e1e"/>
<rect x="178" y="338.10" width="1" height="13.80" fill="#7d7d7d"/>
<rect x="179" y="338.10" width="1" height="13.80" fill="#c8c8c8"/>
<rect x="180" y="338.10" width="1" height="13.80" fill="#3c3c3c"/>
<rect x="181" y="338.10" width="1" height="13.80" fill="#969696"/>
<rect x="182" y="338.10" width="1" height="13.80" fill="#c8c8c8"/>
<rect x="183" y="338.10" width="1" height="13.80" fill="#1e1e1e"/>
<rect x="184" y="338.10" width="1" height="13.80" fill="#1e1e1e"/>
<rect x="185" y="338.10" width="1" height="13.80" fill="#969696"/>
<rect x="186" y="338.10" width="1" height="13.80" fill="#969696"/>
<rect x="187" y="338.10" width="1" height="13.80" fill="#c8c8c8"/>
<rect x="188" y="338.10" width="1" height="13.80" fill="#afafaf"/>
<rect x="189" y="338.10" width="1" height="13.80" fill="#c8c8c8"/>
<rect x="190" y="338.10" width="1" height="13.80" fill="#7d7d7d"/>
<rect x="191" y="338.10" width="1" height="13.80" fill="#afafaf"/>
<rect x="192" y="338.10" width="1" height="13.80" fill="#969696"/>
<rect x="193" y="338.10" width="1" height="13.80" fill="#7d7d7d"/>
<rect x="194" y="338.10" width="1" height="13.80" fill="#fafafa"/>
<rect x="195" y="338.10" width="1" height="13.80" fill="#fafafa"/>
<rect x="196" y="338.10" width="1" height="13.80" fill="#fafafa"/>
<rect x="197" y="338.10" width="1" height="13.80" fill="#5f5f5f"/>
<rect x="198" y="338.10" width="1" height="13.80" fill="#5f5f5f"/>
<rect x="199" y="338.10" width="1" height="13.80" fill="#5f5f5f"/>
<rect x="200" y="338.10" width="1" height="13.80" fill="#7d7d7d"/>
<rect x="201" y="338.10" width="1" height="13.80" fill="#7d7d7d"/>
<rect x="202" y="338.10" width="1" height="13.80" fill="#7d7d7d"/>
<rect x="203" y="338.10" width="1" height="13.80" fill="#1e1e1e"/>
<rect x="204" y="338.10" width="1" height="13.80" fill="#fafafa"/>
<rect x="205" y="338.10" width="1" height="13.80" fill="#fafafa"/>
<rect x="206" y="338.10" width="1" height="13.80" fill="#1e1e1e"/>
<rect x="207" y="338.10" width="1" height="13.80" fill="#c8c8c8"/>
<rect x="208" y="338.10" width="1" height="13.80" fill="#c8c8c8"/>
<rect x="209" y="338.10" width="1" height="13.80" fill="#7d7d7d"/>
<rect x="210" y="338.10" width="1" height="13.80" fill="#969696"/>
<rect x="211" y="338.10" width="1" height="13.80" fill="#7d7d7d"/>
<rect x="212" y="338.10" width="1" height="13.80" fill="#7d7d7d"/>
<rect x="213" y="338.10" width="1" height="13.80" fill="#7d7d7d"/>
<rect x="214" y="338.10" width="1" height="13.80" fill="#7d7d7d"/>
<rect x="215" y="338.10" width="1" height="13.80" fill="#7d7d7d"/>
<rect x="216" y="338.10" width="1" height="13.80" fill="#fafafa"/>
<rect x="217" y="338.10" width="1" height="13.80" fill="#c8c8c8"/>
<rect x="218" y="338.10" width="1" height="13.80" fill="#c8c8c8"/>
<rect x="219" y="338.10" width="1" height="13.80" fill="#7d7d7d"/>
<rect x="220" y="338.10" width="1" height="13.80" fill="#afafaf"/>
<rect x="221" y="338.10" width="1" height="13.80" fill="#5f5f5f"/>
<rect x="222" y="338.10" width="1" height="13.80" fill="#5f5f5f"/>
<rect x="223" y="338.10" width="1" height="13.80" fill="#7d7d7d"/>
<rect x="224" y="338.10" width="1" height="13.80" fill="#fafafa"/>
<rect x="225" y="338.10" width="1" height="13.80" fill="#afafaf"/>
<rect x="226" y="338.10" width="1" height="13.80" fill="#afafaf"/>
<rect x="227" y="338.10" width="1" height="13.80" fill="#afafaf"/>
<rect x="228" y="338.10" width="1" height="13.80" fill="#afafaf"/>
<rect x="229" y="338.10" width="1" height="13.80" fill="#afafaf"/>
<rect x="230" y="338.10" width="1" height="13.80" fill="#afafaf"/>
<rect x="231" y="338.10" width="1" height="13.80" fill="#afafaf"/>
<rect x="232" y="338.10" width="1" height="13.80" fill="#7d7d7d"/>
<rect x="233" y="338.10" width="1" height="13.80" fill="#c8c8c8"/>
<rect x="234" y="338.10" width="1" height="13.80" fill="#1e1e1e"/>
<rect x="235" y="338.10" width="1" height="13.80" fill="#1e1e1e"/>
<rect x="236" y="338.10" width="1" height="13.80" fill="#1e1e1e"/>
<rect x="237" y="338.10" width="1" height="13.80" fill="#1e1e1e"/>
<rect x="148.75" y="351.90" width="20.30" height="3.10" fill="#da6862" />
<rect x="169.00" y="351.90" width="11.65" height="3.10" fill="#e4b2d2" />
<rect x="180.60" y="351.90" width="26.95" height="3.10" fill="#dcd6ee" />
<rect x="207.50" y="351.90" width="12.55" height="3.10" fill="#8c82c8" />
<rect x="220.00" y="351.90" width="15.45" height="3.10" fill="#6a54aa" />
<rect x="235.40" y="351.90" width="2.65" height="3.10" fill="#3a1f82" />
<polyline points="149.20,331.90 150.00,324.26 150.80,314.57 151.60,307.73 152.80,304.36 153.80,303.19 154.80,302.14 155.65,302.17 156.50,301.93 158.10,300.89 159.70,298.67 160.50,298.34 161.30,298.21 162.50,298.16 163.70,298.93 164.55,299.28 165.40,299.20 166.25,299.27 167.14,299.92 168.04,300.34 168.93,301.17 169.82,301.18 170.71,301.63 171.61,302.33 172.50,303.18 173.33,303.97 174.17,304.61 175.00,305.59 175.83,305.81 176.67,306.24 177.50,307.39 178.33,308.08 179.17,308.58 180.00,309.75 180.83,309.99 181.67,310.43 182.50,311.04 183.33,312.13 184.17,311.82 185.00,312.67 185.83,313.14 186.67,313.60 187.50,314.34 188.33,314.68 189.17,315.84 190.00,316.00 190.83,316.69 191.67,316.71 192.50,317.49 193.33,318.13 194.17,318.85 195.00,318.82 195.83,319.52 196.67,320.39 197.50,320.87 198.33,320.84 199.17,321.63 200.00,322.34 200.88,322.56 201.75,323.36 202.62,323.90 203.50,324.73 204.38,324.90 205.25,325.56 206.12,325.82 207.00,326.71 207.80,326.72 208.60,327.25 209.40,327.50 210.20,327.83 211.00,328.05 211.80,328.50 212.60,329.16 213.40,329.28 214.20,329.47 215.00,330.52 215.88,330.46 216.75,331.46 217.62,331.56 218.50,331.78 219.38,332.62 220.25,333.05 221.12,332.93 222.00,333.16 222.83,333.88 223.67,334.31 224.50,334.35 225.33,334.76 226.17,334.67 227.00,335.11 228.00,335.09 229.00,335.52 230.00,335.79 231.00,335.66 232.00,335.54 233.00,335.78 233.83,334.87 234.67,334.57 235.50,334.28 237.00,333.92 238.00,331.50" fill="none" stroke="#8cc63f" stroke-width="1.15" stroke-linejoin="round"/>
<text x="225.20" y="304.70" font-size="3.5" text-anchor="middle" fill="#444" stroke="#444" stroke-width="0.100" textLength="13.5" lengthAdjust="spacingAndGlyphs" >NES=1.80</text>
<text x="225.20" y="308.60" font-size="3.5" text-anchor="middle" fill="#444" stroke="#444" stroke-width="0.100" textLength="15.5" lengthAdjust="spacingAndGlyphs" >FDR&lt;.001</text>
<text x="149.55" y="361.90" font-size="5.0" fill="#e07874" stroke="#e07874" stroke-width="0.05" textLength="19.7" lengthAdjust="spacingAndGlyphs">P/R_RA/As</text>
<text x="243.70" y="361.90" font-size="4.6" text-anchor="end" fill="#7a74bc" textLength="5.2" lengthAdjust="spacingAndGlyphs">UT</text>
<rect x="30.00" y="368.00" width="94.00" height="59.10" fill="none" stroke="#e4e0da" stroke-width="0.8"/>
<line x1="43.43" y1="368.00" x2="43.43" y2="409.90" stroke="#f0f0f0" stroke-width="0.6" />
<line x1="56.86" y1="368.00" x2="56.86" y2="409.90" stroke="#f0f0f0" stroke-width="0.6" />
<line x1="70.29" y1="368.00" x2="70.29" y2="409.90" stroke="#f0f0f0" stroke-width="0.6" />
<line x1="83.71" y1="368.00" x2="83.71" y2="409.90" stroke="#f0f0f0" stroke-width="0.6" />
<line x1="97.14" y1="368.00" x2="97.14" y2="409.90" stroke="#f0f0f0" stroke-width="0.6" />
<line x1="110.57" y1="368.00" x2="110.57" y2="409.90" stroke="#f0f0f0" stroke-width="0.6" />
<line x1="30.00" y1="369.85" x2="124.00" y2="369.85" stroke="#f0f0f0" stroke-width="0.6" />
<line x1="30.00" y1="376.95" x2="124.00" y2="376.95" stroke="#f0f0f0" stroke-width="0.6" />
<line x1="30.00" y1="384.05" x2="124.00" y2="384.05" stroke="#f0f0f0" stroke-width="0.6" />
<line x1="30.00" y1="391.15" x2="124.00" y2="391.15" stroke="#f0f0f0" stroke-width="0.6" />
<line x1="30.00" y1="398.25" x2="124.00" y2="398.25" stroke="#f0f0f0" stroke-width="0.6" />
<line x1="30.00" y1="405.35" x2="124.00" y2="405.35" stroke="#f0f0f0" stroke-width="0.6" />
<line x1="30.00" y1="398.25" x2="124.00" y2="398.25" stroke="#c4c4c4" stroke-width="0.7" />
<line x1="30.00" y1="409.90" x2="124.00" y2="409.90" stroke="#d8d8d8" stroke-width="0.7" />
<line x1="30.00" y1="422.50" x2="124.00" y2="422.50" stroke="#e8e8e8" stroke-width="0.5" />
<text x="27.00" y="371.40" font-size="4.3" text-anchor="end" fill="#7a7a7a" stroke="#7a7a7a" stroke-width="0.100"  >0.40</text>
<line x1="28.20" y1="369.85" x2="30.00" y2="369.85" stroke="#999" stroke-width="0.6" />
<text x="27.00" y="378.50" font-size="4.3" text-anchor="end" fill="#7a7a7a" stroke="#7a7a7a" stroke-width="0.100"  >0.30</text>
<line x1="28.20" y1="376.95" x2="30.00" y2="376.95" stroke="#999" stroke-width="0.6" />
<text x="27.00" y="385.60" font-size="4.3" text-anchor="end" fill="#7a7a7a" stroke="#7a7a7a" stroke-width="0.100"  >0.20</text>
<line x1="28.20" y1="384.05" x2="30.00" y2="384.05" stroke="#999" stroke-width="0.6" />
<text x="27.00" y="392.70" font-size="4.3" text-anchor="end" fill="#7a7a7a" stroke="#7a7a7a" stroke-width="0.100"  >0.10</text>
<line x1="28.20" y1="391.15" x2="30.00" y2="391.15" stroke="#999" stroke-width="0.6" />
<text x="27.00" y="399.80" font-size="4.3" text-anchor="end" fill="#7a7a7a" stroke="#7a7a7a" stroke-width="0.100"  >0.00</text>
<line x1="28.20" y1="398.25" x2="30.00" y2="398.25" stroke="#999" stroke-width="0.6" />
<text x="27.00" y="406.90" font-size="4.3" text-anchor="end" fill="#7a7a7a" stroke="#7a7a7a" stroke-width="0.100"  >-0.10</text>
<line x1="28.20" y1="405.35" x2="30.00" y2="405.35" stroke="#999" stroke-width="0.6" />
<rect x="30" y="409.90" width="1" height="13.80" fill="#7d7d7d"/>
<rect x="31" y="409.90" width="1" height="13.80" fill="#afafaf"/>
<rect x="32" y="409.90" width="1" height="13.80" fill="#afafaf"/>
<rect x="33" y="409.90" width="1" height="13.80" fill="#7d7d7d"/>
<rect x="34" y="409.90" width="1" height="13.80" fill="#7d7d7d"/>
<rect x="35" y="409.90" width="1" height="13.80" fill="#7d7d7d"/>
<rect x="36" y="409.90" width="1" height="13.80" fill="#afafaf"/>
<rect x="37" y="409.90" width="1" height="13.80" fill="#7d7d7d"/>
<rect x="38" y="409.90" width="1" height="13.80" fill="#e1e1e1"/>
<rect x="39" y="409.90" width="1" height="13.80" fill="#1e1e1e"/>
<rect x="40" y="409.90" width="1" height="13.80" fill="#5f5f5f"/>
<rect x="41" y="409.90" width="1" height="13.80" fill="#5f5f5f"/>
<rect x="42" y="409.90" width="1" height="13.80" fill="#5f5f5f"/>
<rect x="43" y="409.90" width="1" height="13.80" fill="#5f5f5f"/>
<rect x="44" y="409.90" width="1" height="13.80" fill="#5f5f5f"/>
<rect x="45" y="409.90" width="1" height="13.80" fill="#5f5f5f"/>
<rect x="46" y="409.90" width="1" height="13.80" fill="#5f5f5f"/>
<rect x="47" y="409.90" width="1" height="13.80" fill="#5f5f5f"/>
<rect x="48" y="409.90" width="1" height="13.80" fill="#e1e1e1"/>
<rect x="49" y="409.90" width="1" height="13.80" fill="#c8c8c8"/>
<rect x="50" y="409.90" width="1" height="13.80" fill="#969696"/>
<rect x="51" y="409.90" width="1" height="13.80" fill="#969696"/>
<rect x="52" y="409.90" width="1" height="13.80" fill="#3c3c3c"/>
<rect x="53" y="409.90" width="1" height="13.80" fill="#3c3c3c"/>
<rect x="54" y="409.90" width="1" height="13.80" fill="#3c3c3c"/>
<rect x="55" y="409.90" width="1" height="13.80" fill="#3c3c3c"/>
<rect x="56" y="409.90" width="1" height="13.80" fill="#afafaf"/>
<rect x="57" y="409.90" width="1" height="13.80" fill="#afafaf"/>
<rect x="58" y="409.90" width="1" height="13.80" fill="#afafaf"/>
<rect x="59" y="409.90" width="1" height="13.80" fill="#5f5f5f"/>
<rect x="60" y="409.90" width="1" height="13.80" fill="#969696"/>
<rect x="61" y="409.90" width="1" height="13.80" fill="#969696"/>
<rect x="62" y="409.90" width="1" height="13.80" fill="#969696"/>
<rect x="63" y="409.90" width="1" height="13.80" fill="#969696"/>
<rect x="64" y="409.90" width="1" height="13.80" fill="#7d7d7d"/>
<rect x="65" y="409.90" width="1" height="13.80" fill="#969696"/>
<rect x="66" y="409.90" width="1" height="13.80" fill="#afafaf"/>
<rect x="67" y="409.90" width="1" height="13.80" fill="#afafaf"/>
<rect x="68" y="409.90" width="1" height="13.80" fill="#c8c8c8"/>
<rect x="69" y="409.90" width="1" height="13.80" fill="#c8c8c8"/>
<rect x="70" y="409.90" width="1" height="13.80" fill="#5f5f5f"/>
<rect x="71" y="409.90" width="1" height="13.80" fill="#5f5f5f"/>
<rect x="72" y="409.90" width="1" height="13.80" fill="#5f5f5f"/>
<rect x="73" y="409.90" width="1" height="13.80" fill="#5f5f5f"/>
<rect x="74" y="409.90" width="1" height="13.80" fill="#e1e1e1"/>
<rect x="75" y="409.90" width="1" height="13.80" fill="#e1e1e1"/>
<rect x="76" y="409.90" width="1" height="13.80" fill="#e1e1e1"/>
<rect x="77" y="409.90" width="1" height="13.80" fill="#e1e1e1"/>
<rect x="78" y="409.90" width="1" height="13.80" fill="#c8c8c8"/>
<rect x="79" y="409.90" width="1" height="13.80" fill="#fafafa"/>
<rect x="80" y="409.90" width="1" height="13.80" fill="#c8c8c8"/>
<rect x="81" y="409.90" width="1" height="13.80" fill="#afafaf"/>
<rect x="82" y="409.90" width="1" height="13.80" fill="#afafaf"/>
<rect x="83" y="409.90" width="1" height="13.80" fill="#c8c8c8"/>
<rect x="84" y="409.90" width="1" height="13.80" fill="#7d7d7d"/>
<rect x="85" y="409.90" width="1" height="13.80" fill="#afafaf"/>
<rect x="86" y="409.90" width="1" height="13.80" fill="#7d7d7d"/>
<rect x="87" y="409.90" width="1" height="13.80" fill="#afafaf"/>
<rect x="88" y="409.90" width="1" height="13.80" fill="#afafaf"/>
<rect x="89" y="409.90" width="1" height="13.80" fill="#969696"/>
<rect x="90" y="409.90" width="1" height="13.80" fill="#3c3c3c"/>
<rect x="91" y="409.90" width="1" height="13.80" fill="#fafafa"/>
<rect x="92" y="409.90" width="1" height="13.80" fill="#7d7d7d"/>
<rect x="93" y="409.90" width="1" height="13.80" fill="#afafaf"/>
<rect x="94" y="409.90" width="1" height="13.80" fill="#969696"/>
<rect x="95" y="409.90" width="1" height="13.80" fill="#e1e1e1"/>
<rect x="96" y="409.90" width="1" height="13.80" fill="#7d7d7d"/>
<rect x="97" y="409.90" width="1" height="13.80" fill="#fafafa"/>
<rect x="98" y="409.90" width="1" height="13.80" fill="#969696"/>
<rect x="99" y="409.90" width="1" height="13.80" fill="#7d7d7d"/>
<rect x="100" y="409.90" width="1" height="13.80" fill="#969696"/>
<rect x="101" y="409.90" width="1" height="13.80" fill="#969696"/>
<rect x="102" y="409.90" width="1" height="13.80" fill="#969696"/>
<rect x="103" y="409.90" width="1" height="13.80" fill="#afafaf"/>
<rect x="104" y="409.90" width="1" height="13.80" fill="#afafaf"/>
<rect x="105" y="409.90" width="1" height="13.80" fill="#afafaf"/>
<rect x="106" y="409.90" width="1" height="13.80" fill="#7d7d7d"/>
<rect x="107" y="409.90" width="1" height="13.80" fill="#5f5f5f"/>
<rect x="108" y="409.90" width="1" height="13.80" fill="#1e1e1e"/>
<rect x="109" y="409.90" width="1" height="13.80" fill="#3c3c3c"/>
<rect x="110" y="409.90" width="1" height="13.80" fill="#3c3c3c"/>
<rect x="111" y="409.90" width="1" height="13.80" fill="#1e1e1e"/>
<rect x="112" y="409.90" width="1" height="13.80" fill="#1e1e1e"/>
<rect x="113" y="409.90" width="1" height="13.80" fill="#969696"/>
<rect x="114" y="409.90" width="1" height="13.80" fill="#7d7d7d"/>
<rect x="115" y="409.90" width="1" height="13.80" fill="#969696"/>
<rect x="116" y="409.90" width="1" height="13.80" fill="#e1e1e1"/>
<rect x="117" y="409.90" width="1" height="13.80" fill="#e1e1e1"/>
<rect x="118" y="409.90" width="1" height="13.80" fill="#7d7d7d"/>
<rect x="119" y="409.90" width="1" height="13.80" fill="#1e1e1e"/>
<rect x="30.00" y="423.70" width="15.05" height="3.10" fill="#da6862" />
<rect x="45.00" y="423.70" width="13.75" height="3.10" fill="#e07272" />
<rect x="58.70" y="423.70" width="13.55" height="3.10" fill="#e4b2d2" />
<rect x="72.20" y="423.70" width="12.55" height="3.10" fill="#dcd6ee" />
<rect x="84.70" y="423.70" width="9.65" height="3.10" fill="#c8c0e4" />
<rect x="94.30" y="423.70" width="9.75" height="3.10" fill="#8c82c8" />
<rect x="104.00" y="423.70" width="11.55" height="3.10" fill="#6a54aa" />
<rect x="115.50" y="423.70" width="4.15" height="3.10" fill="#3a1f82" />
<polyline points="30.50,398.25 31.25,387.17 32.50,378.62 33.33,377.03 34.17,375.76 35.00,374.19 35.83,372.51 36.67,372.11 37.50,370.92 38.33,371.27 39.17,370.59 40.00,370.85 40.94,370.73 41.88,370.54 42.81,370.62 43.75,371.02 44.64,371.94 45.54,371.65 46.43,372.30 47.32,372.56 48.21,372.90 49.11,373.66 50.00,373.49 50.83,374.36 51.67,374.73 52.50,375.39 53.33,375.43 54.17,376.21 55.00,376.20 55.83,376.73 56.67,377.19 57.50,377.81 58.33,378.41 59.17,378.26 60.00,378.84 60.83,379.75 61.67,380.56 62.50,380.86 63.33,381.21 64.17,382.36 65.00,382.32 65.83,382.68 66.67,383.21 67.50,383.74 68.33,384.93 69.17,384.92 70.00,386.03 70.83,386.72 71.67,387.39 72.50,387.78 73.33,387.99 74.17,388.72 75.00,389.47 75.83,389.92 76.67,390.09 77.50,391.07 78.33,391.04 79.17,391.77 80.00,392.95 80.83,393.03 81.67,393.40 82.50,394.42 83.33,394.68 84.17,394.83 85.00,395.41 85.83,396.17 86.67,396.79 87.50,397.89 88.33,397.69 89.17,398.65 90.00,399.07 90.83,399.09 91.67,400.03 92.50,400.24 93.33,400.40 94.17,400.62 95.00,401.21 95.83,401.89 96.67,401.84 97.50,401.81 98.33,402.25 99.17,402.62 100.00,402.64 100.83,403.26 101.67,403.05 102.50,404.04 103.33,403.68 104.17,403.84 105.00,404.50 105.83,404.47 106.67,405.21 107.50,405.08 108.33,405.32 109.17,405.83 110.00,405.49 110.90,406.17 111.80,406.28 112.70,406.29 113.60,406.96 114.50,406.32 115.33,406.49 116.17,405.26 117.00,405.31 117.90,402.81 118.80,400.85 119.60,398.00" fill="none" stroke="#8cc63f" stroke-width="1.15" stroke-linejoin="round"/>
<text x="109.30" y="375.70" font-size="3.5" text-anchor="middle" fill="#444" stroke="#444" stroke-width="0.100" textLength="13.5" lengthAdjust="spacingAndGlyphs" >NES=1.36</text>
<text x="109.30" y="379.60" font-size="3.5" text-anchor="middle" fill="#444" stroke="#444" stroke-width="0.100" textLength="13.8" lengthAdjust="spacingAndGlyphs" >FDR&lt;.05</text>
<text x="30.80" y="433.70" font-size="5.0" fill="#e07874" stroke="#e07874" stroke-width="0.05" textLength="33.0" lengthAdjust="spacingAndGlyphs">P/R-FLT3ITD_RA/As</text>
<text x="125.20" y="433.70" font-size="4.6" text-anchor="end" fill="#7a74bc" textLength="5.2" lengthAdjust="spacingAndGlyphs">UT</text>
<rect x="148.30" y="368.00" width="94.20" height="59.10" fill="none" stroke="#e4e0da" stroke-width="0.8"/>
<line x1="161.76" y1="368.00" x2="161.76" y2="409.90" stroke="#f0f0f0" stroke-width="0.6" />
<line x1="175.21" y1="368.00" x2="175.21" y2="409.90" stroke="#f0f0f0" stroke-width="0.6" />
<line x1="188.67" y1="368.00" x2="188.67" y2="409.90" stroke="#f0f0f0" stroke-width="0.6" />
<line x1="202.13" y1="368.00" x2="202.13" y2="409.90" stroke="#f0f0f0" stroke-width="0.6" />
<line x1="215.59" y1="368.00" x2="215.59" y2="409.90" stroke="#f0f0f0" stroke-width="0.6" />
<line x1="229.04" y1="368.00" x2="229.04" y2="409.90" stroke="#f0f0f0" stroke-width="0.6" />
<line x1="148.30" y1="369.92" x2="242.50" y2="369.92" stroke="#f0f0f0" stroke-width="0.6" />
<line x1="148.30" y1="374.15" x2="242.50" y2="374.15" stroke="#f0f0f0" stroke-width="0.6" />
<line x1="148.30" y1="378.38" x2="242.50" y2="378.38" stroke="#f0f0f0" stroke-width="0.6" />
<line x1="148.30" y1="382.61" x2="242.50" y2="382.61" stroke="#f0f0f0" stroke-width="0.6" />
<line x1="148.30" y1="386.84" x2="242.50" y2="386.84" stroke="#f0f0f0" stroke-width="0.6" />
<line x1="148.30" y1="391.07" x2="242.50" y2="391.07" stroke="#f0f0f0" stroke-width="0.6" />
<line x1="148.30" y1="395.30" x2="242.50" y2="395.30" stroke="#f0f0f0" stroke-width="0.6" />
<line x1="148.30" y1="399.53" x2="242.50" y2="399.53" stroke="#f0f0f0" stroke-width="0.6" />
<line x1="148.30" y1="403.76" x2="242.50" y2="403.76" stroke="#f0f0f0" stroke-width="0.6" />
<line x1="148.30" y1="407.99" x2="242.50" y2="407.99" stroke="#f0f0f0" stroke-width="0.6" />
<line x1="148.30" y1="395.30" x2="242.50" y2="395.30" stroke="#c4c4c4" stroke-width="0.7" />
<line x1="148.30" y1="409.90" x2="242.50" y2="409.90" stroke="#d8d8d8" stroke-width="0.7" />
<line x1="148.30" y1="422.50" x2="242.50" y2="422.50" stroke="#e8e8e8" stroke-width="0.5" />
<text x="145.30" y="371.36" font-size="4.0" text-anchor="end" fill="#7a7a7a" stroke="#7a7a7a" stroke-width="0.100"  >0.30</text>
<line x1="146.50" y1="369.92" x2="148.30" y2="369.92" stroke="#999" stroke-width="0.6" />
<text x="145.30" y="375.59" font-size="4.0" text-anchor="end" fill="#7a7a7a" stroke="#7a7a7a" stroke-width="0.100"  >0.25</text>
<line x1="146.50" y1="374.15" x2="148.30" y2="374.15" stroke="#999" stroke-width="0.6" />
<text x="145.30" y="379.82" font-size="4.0" text-anchor="end" fill="#7a7a7a" stroke="#7a7a7a" stroke-width="0.100"  >0.20</text>
<line x1="146.50" y1="378.38" x2="148.30" y2="378.38" stroke="#999" stroke-width="0.6" />
<text x="145.30" y="384.05" font-size="4.0" text-anchor="end" fill="#7a7a7a" stroke="#7a7a7a" stroke-width="0.100"  >0.15</text>
<line x1="146.50" y1="382.61" x2="148.30" y2="382.61" stroke="#999" stroke-width="0.6" />
<text x="145.30" y="388.28" font-size="4.0" text-anchor="end" fill="#7a7a7a" stroke="#7a7a7a" stroke-width="0.100"  >0.10</text>
<line x1="146.50" y1="386.84" x2="148.30" y2="386.84" stroke="#999" stroke-width="0.6" />
<text x="145.30" y="392.51" font-size="4.0" text-anchor="end" fill="#7a7a7a" stroke="#7a7a7a" stroke-width="0.100"  >0.05</text>
<line x1="146.50" y1="391.07" x2="148.30" y2="391.07" stroke="#999" stroke-width="0.6" />
<text x="145.30" y="396.74" font-size="4.0" text-anchor="end" fill="#7a7a7a" stroke="#7a7a7a" stroke-width="0.100"  >0.00</text>
<line x1="146.50" y1="395.30" x2="148.30" y2="395.30" stroke="#999" stroke-width="0.6" />
<text x="145.30" y="400.97" font-size="4.0" text-anchor="end" fill="#7a7a7a" stroke="#7a7a7a" stroke-width="0.100"  >-0.05</text>
<line x1="146.50" y1="399.53" x2="148.30" y2="399.53" stroke="#999" stroke-width="0.6" />
<text x="145.30" y="405.20" font-size="4.0" text-anchor="end" fill="#7a7a7a" stroke="#7a7a7a" stroke-width="0.100"  >-0.10</text>
<line x1="146.50" y1="403.76" x2="148.30" y2="403.76" stroke="#999" stroke-width="0.6" />
<text x="145.30" y="409.43" font-size="4.0" text-anchor="end" fill="#7a7a7a" stroke="#7a7a7a" stroke-width="0.100"  >-0.15</text>
<line x1="146.50" y1="407.99" x2="148.30" y2="407.99" stroke="#999" stroke-width="0.6" />
<rect x="148" y="409.90" width="1" height="13.80" fill="#3c3c3c"/>
<rect x="149" y="409.90" width="1" height="13.80" fill="#3c3c3c"/>
<rect x="150" y="409.90" width="1" height="13.80" fill="#fafafa"/>
<rect x="151" y="409.90" width="1" height="13.80" fill="#7d7d7d"/>
<rect x="152" y="409.90" width="1" height="13.80" fill="#7d7d7d"/>
<rect x="153" y="409.90" width="1" height="13.80" fill="#7d7d7d"/>
<rect x="154" y="409.90" width="1" height="13.80" fill="#969696"/>
<rect x="155" y="409.90" width="1" height="13.80" fill="#969696"/>
<rect x="156" y="409.90" width="1" height="13.80" fill="#7d7d7d"/>
<rect x="157" y="409.90" width="1" height="13.80" fill="#7d7d7d"/>
<rect x="158" y="409.90" width="1" height="13.80" fill="#7d7d7d"/>
<rect x="159" y="409.90" width="1" height="13.80" fill="#7d7d7d"/>
<rect x="160" y="409.90" width="1" height="13.80" fill="#5f5f5f"/>
<rect x="161" y="409.90" width="1" height="13.80" fill="#afafaf"/>
<rect x="162" y="409.90" width="1" height="13.80" fill="#afafaf"/>
<rect x="163" y="409.90" width="1" height="13.80" fill="#7d7d7d"/>
<rect x="164" y="409.90" width="1" height="13.80" fill="#5f5f5f"/>
<rect x="165" y="409.90" width="1" height="13.80" fill="#5f5f5f"/>
<rect x="166" y="409.90" width="1" height="13.80" fill="#fafafa"/>
<rect x="167" y="409.90" width="1" height="13.80" fill="#afafaf"/>
<rect x="168" y="409.90" width="1" height="13.80" fill="#afafaf"/>
<rect x="169" y="409.90" width="1" height="13.80" fill="#3c3c3c"/>
<rect x="170" y="409.90" width="1" height="13.80" fill="#afafaf"/>
<rect x="171" y="409.90" width="1" height="13.80" fill="#3c3c3c"/>
<rect x="172" y="409.90" width="1" height="13.80" fill="#3c3c3c"/>
<rect x="173" y="409.90" width="1" height="13.80" fill="#5f5f5f"/>
<rect x="174" y="409.90" width="1" height="13.80" fill="#5f5f5f"/>
<rect x="175" y="409.90" width="1" height="13.80" fill="#5f5f5f"/>
<rect x="176" y="409.90" width="1" height="13.80" fill="#3c3c3c"/>
<rect x="177" y="409.90" width="1" height="13.80" fill="#3c3c3c"/>
<rect x="178" y="409.90" width="1" height="13.80" fill="#7d7d7d"/>
<rect x="179" y="409.90" width="1" height="13.80" fill="#c8c8c8"/>
<rect x="180" y="409.90" width="1" height="13.80" fill="#969696"/>
<rect x="181" y="409.90" width="1" height="13.80" fill="#969696"/>
<rect x="182" y="409.90" width="1" height="13.80" fill="#afafaf"/>
<rect x="183" y="409.90" width="1" height="13.80" fill="#969696"/>
<rect x="184" y="409.90" width="1" height="13.80" fill="#afafaf"/>
<rect x="185" y="409.90" width="1" height="13.80" fill="#969696"/>
<rect x="186" y="409.90" width="1" height="13.80" fill="#e1e1e1"/>
<rect x="187" y="409.90" width="1" height="13.80" fill="#e1e1e1"/>
<rect x="188" y="409.90" width="1" height="13.80" fill="#5f5f5f"/>
<rect x="189" y="409.90" width="1" height="13.80" fill="#5f5f5f"/>
<rect x="190" y="409.90" width="1" height="13.80" fill="#1e1e1e"/>
<rect x="191" y="409.90" width="1" height="13.80" fill="#1e1e1e"/>
<rect x="192" y="409.90" width="1" height="13.80" fill="#1e1e1e"/>
<rect x="193" y="409.90" width="1" height="13.80" fill="#7d7d7d"/>
<rect x="194" y="409.90" width="1" height="13.80" fill="#fafafa"/>
<rect x="195" y="409.90" width="1" height="13.80" fill="#7d7d7d"/>
<rect x="196" y="409.90" width="1" height="13.80" fill="#afafaf"/>
<rect x="197" y="409.90" width="1" height="13.80" fill="#7d7d7d"/>
<rect x="198" y="409.90" width="1" height="13.80" fill="#1e1e1e"/>
<rect x="199" y="409.90" width="1" height="13.80" fill="#fafafa"/>
<rect x="200" y="409.90" width="1" height="13.80" fill="#7d7d7d"/>
<rect x="201" y="409.90" width="1" height="13.80" fill="#7d7d7d"/>
<rect x="202" y="409.90" width="1" height="13.80" fill="#7d7d7d"/>
<rect x="203" y="409.90" width="1" height="13.80" fill="#5f5f5f"/>
<rect x="204" y="409.90" width="1" height="13.80" fill="#7d7d7d"/>
<rect x="205" y="409.90" width="1" height="13.80" fill="#7d7d7d"/>
<rect x="206" y="409.90" width="1" height="13.80" fill="#7d7d7d"/>
<rect x="207" y="409.90" width="1" height="13.80" fill="#e1e1e1"/>
<rect x="208" y="409.90" width="1" height="13.80" fill="#c8c8c8"/>
<rect x="209" y="409.90" width="1" height="13.80" fill="#afafaf"/>
<rect x="210" y="409.90" width="1" height="13.80" fill="#fafafa"/>
<rect x="211" y="409.90" width="1" height="13.80" fill="#fafafa"/>
<rect x="212" y="409.90" width="1" height="13.80" fill="#e1e1e1"/>
<rect x="213" y="409.90" width="1" height="13.80" fill="#969696"/>
<rect x="214" y="409.90" width="1" height="13.80" fill="#969696"/>
<rect x="215" y="409.90" width="1" height="13.80" fill="#c8c8c8"/>
<rect x="216" y="409.90" width="1" height="13.80" fill="#e1e1e1"/>
<rect x="217" y="409.90" width="1" height="13.80" fill="#7d7d7d"/>
<rect x="218" y="409.90" width="1" height="13.80" fill="#7d7d7d"/>
<rect x="219" y="409.90" width="1" height="13.80" fill="#7d7d7d"/>
<rect x="220" y="409.90" width="1" height="13.80" fill="#3c3c3c"/>
<rect x="221" y="409.90" width="1" height="13.80" fill="#c8c8c8"/>
<rect x="222" y="409.90" width="1" height="13.80" fill="#7d7d7d"/>
<rect x="223" y="409.90" width="1" height="13.80" fill="#afafaf"/>
<rect x="224" y="409.90" width="1" height="13.80" fill="#c8c8c8"/>
<rect x="225" y="409.90" width="1" height="13.80" fill="#969696"/>
<rect x="226" y="409.90" width="1" height="13.80" fill="#5f5f5f"/>
<rect x="227" y="409.90" width="1" height="13.80" fill="#5f5f5f"/>
<rect x="228" y="409.90" width="1" height="13.80" fill="#5f5f5f"/>
<rect x="229" y="409.90" width="1" height="13.80" fill="#afafaf"/>
<rect x="230" y="409.90" width="1" height="13.80" fill="#afafaf"/>
<rect x="231" y="409.90" width="1" height="13.80" fill="#7d7d7d"/>
<rect x="232" y="409.90" width="1" height="13.80" fill="#7d7d7d"/>
<rect x="233" y="409.90" width="1" height="13.80" fill="#afafaf"/>
<rect x="234" y="409.90" width="1" height="13.80" fill="#969696"/>
<rect x="235" y="409.90" width="1" height="13.80" fill="#969696"/>
<rect x="236" y="409.90" width="1" height="13.80" fill="#969696"/>
<rect x="237" y="409.90" width="1" height="13.80" fill="#969696"/>
<rect x="238" y="409.90" width="1" height="13.80" fill="#afafaf"/>
<rect x="148.30" y="423.70" width="16.75" height="3.10" fill="#da6862" />
<rect x="165.00" y="423.70" width="17.55" height="3.10" fill="#e07272" />
<rect x="182.50" y="423.70" width="14.55" height="3.10" fill="#e4b2d2" />
<rect x="197.00" y="423.70" width="11.55" height="3.10" fill="#dcd6ee" />
<rect x="208.50" y="423.70" width="8.55" height="3.10" fill="#c8c0e4" />
<rect x="217.00" y="423.70" width="8.05" height="3.10" fill="#8c82c8" />
<rect x="225.00" y="423.70" width="10.45" height="3.10" fill="#6a54aa" />
<rect x="235.40" y="423.70" width="2.95" height="3.10" fill="#3a1f82" />
<polyline points="148.75,395.00 150.00,385.39 151.25,376.29 152.08,374.64 152.92,374.08 153.75,372.43 154.58,372.35 155.42,371.67 156.25,371.05 157.19,371.14 158.12,370.36 159.06,371.01 160.00,370.57 160.94,370.73 161.88,371.27 162.81,371.77 163.75,371.55 165.00,372.95 165.83,372.67 166.67,371.83 167.50,371.28 168.33,371.32 169.17,372.17 170.00,371.77 170.83,372.58 171.67,372.96 172.50,372.80 173.33,374.11 174.17,373.85 175.00,374.94 175.83,375.27 176.67,375.64 177.50,375.99 178.33,375.96 179.17,376.40 180.00,376.69 180.83,377.61 181.67,377.19 182.50,377.67 183.33,379.17 184.17,379.79 185.00,380.45 185.83,381.44 186.67,381.80 187.50,382.84 188.33,383.24 189.17,384.41 190.00,384.41 190.83,385.49 191.67,386.36 192.50,387.30 193.33,387.71 194.17,388.68 195.00,389.69 195.83,389.94 196.67,390.49 197.50,391.08 198.33,392.58 199.17,392.99 200.00,393.67 200.83,394.54 201.67,394.94 202.50,395.78 203.33,396.55 204.17,397.32 205.00,398.62 205.83,398.63 206.67,399.04 207.50,400.30 208.33,400.57 209.17,400.65 210.00,401.79 210.83,402.36 211.67,402.88 212.50,403.55 213.33,403.73 214.17,404.05 215.00,405.02 215.83,405.41 216.67,405.98 217.50,406.02 218.33,406.69 219.17,407.47 220.00,407.70 220.94,407.52 221.88,407.03 222.81,406.90 223.75,406.16 224.69,406.05 225.62,406.10 226.56,405.38 227.50,405.01 228.44,406.05 229.38,406.22 230.31,407.50 231.25,407.60 232.08,406.96 232.92,405.43 233.75,403.89 234.88,403.92 236.00,403.76 237.40,399.99 238.30,395.00" fill="none" stroke="#8cc63f" stroke-width="1.15" stroke-linejoin="round"/>
<text x="225.10" y="375.70" font-size="3.5" text-anchor="middle" fill="#444" stroke="#444" stroke-width="0.100" textLength="13.5" lengthAdjust="spacingAndGlyphs" >NES=1.73</text>
<text x="225.10" y="379.60" font-size="3.5" text-anchor="middle" fill="#444" stroke="#444" stroke-width="0.100" textLength="12.1" lengthAdjust="spacingAndGlyphs" >FDR&lt;.5</text>
<text x="149.10" y="433.70" font-size="5.0" fill="#e07874" stroke="#e07874" stroke-width="0.05" textLength="33.0" lengthAdjust="spacingAndGlyphs">P/R-FLT3ITD_RA/As</text>
<text x="243.70" y="433.70" font-size="4.6" text-anchor="end" fill="#7a74bc" textLength="5.2" lengthAdjust="spacingAndGlyphs">UT</text>
<text x="77.60" y="291.00" font-size="6.0" text-anchor="middle" fill="#231f20" stroke="#231f20" stroke-width="0.100" textLength="43.6" lengthAdjust="spacingAndGlyphs" >P53 Pathway 9h</text>
<text x="196.30" y="291.00" font-size="6.0" text-anchor="middle" fill="#231f20" stroke="#231f20" stroke-width="0.100" textLength="47.5" lengthAdjust="spacingAndGlyphs" >P53 Pathway 24h</text>
<text transform="translate(13.40,316.25) rotate(-90)" font-size="7.0" text-anchor="middle" fill="#231f20" stroke="#231f20" stroke-width="0.060" textLength="47.8" lengthAdjust="spacingAndGlyphs">Enrichment score</text>
<text transform="translate(131.60,316.25) rotate(-90)" font-size="7.0" text-anchor="middle" fill="#231f20" stroke="#231f20" stroke-width="0.060" textLength="47.8" lengthAdjust="spacingAndGlyphs">Enrichment score</text>
<text transform="translate(13.40,387.60) rotate(-90)" font-size="7.0" text-anchor="middle" fill="#231f20" stroke="#231f20" stroke-width="0.060" textLength="47.8" lengthAdjust="spacingAndGlyphs">Enrichment score</text>
<text transform="translate(131.60,387.60) rotate(-90)" font-size="7.0" text-anchor="middle" fill="#231f20" stroke="#231f20" stroke-width="0.060" textLength="47.8" lengthAdjust="spacingAndGlyphs">Enrichment score</text>
<text x="259.60" y="279.60" font-size="11" text-anchor="start" fill="#000" stroke="#000" stroke-width="0.050"  >C</text>
<line x1="283.00" y1="285.40" x2="283.00" y2="404.50" stroke="#231f20" stroke-width="1.15" />
<line x1="282.50" y1="403.90" x2="468.40" y2="403.90" stroke="#231f20" stroke-width="1.15" />
<line x1="279.80" y1="403.90" x2="283.00" y2="403.90" stroke="#231f20" stroke-width="0.9" />
<text x="277.40" y="406.00" font-size="6.0" text-anchor="end" fill="#231f20" stroke="#231f20" stroke-width="0.100"  >0</text>
<line x1="279.80" y1="384.68" x2="283.00" y2="384.68" stroke="#231f20" stroke-width="0.9" />
<text x="277.40" y="386.78" font-size="6.0" text-anchor="end" fill="#231f20" stroke="#231f20" stroke-width="0.100"  >20</text>
<line x1="279.80" y1="365.46" x2="283.00" y2="365.46" stroke="#231f20" stroke-width="0.9" />
<text x="277.40" y="367.56" font-size="6.0" text-anchor="end" fill="#231f20" stroke="#231f20" stroke-width="0.100"  >40</text>
<line x1="279.80" y1="346.24" x2="283.00" y2="346.24" stroke="#231f20" stroke-width="0.9" />
<text x="277.40" y="348.34" font-size="6.0" text-anchor="end" fill="#231f20" stroke="#231f20" stroke-width="0.100"  >60</text>
<line x1="279.80" y1="327.02" x2="283.00" y2="327.02" stroke="#231f20" stroke-width="0.9" />
<text x="277.40" y="329.12" font-size="6.0" text-anchor="end" fill="#231f20" stroke="#231f20" stroke-width="0.100"  >80</text>
<line x1="279.80" y1="307.80" x2="283.00" y2="307.80" stroke="#231f20" stroke-width="0.9" />
<text x="277.40" y="309.90" font-size="6.0" text-anchor="end" fill="#231f20" stroke="#231f20" stroke-width="0.100"  >100</text>
<line x1="279.80" y1="288.58" x2="283.00" y2="288.58" stroke="#231f20" stroke-width="0.9" />
<text x="277.40" y="290.68" font-size="6.0" text-anchor="end" fill="#231f20" stroke="#231f20" stroke-width="0.100"  >120</text>
<line x1="283.00" y1="403.90" x2="283.00" y2="406.90" stroke="#231f20" stroke-width="0.9" />
<text x="283.00" y="415.80" font-size="6.0" text-anchor="middle" fill="#231f20" stroke="#231f20" stroke-width="0.100"  >0</text>
<line x1="296.05" y1="403.90" x2="296.05" y2="406.90" stroke="#231f20" stroke-width="0.9" />
<text x="296.05" y="415.80" font-size="6.0" text-anchor="middle" fill="#231f20" stroke="#231f20" stroke-width="0.100"  >5</text>
<line x1="309.10" y1="403.90" x2="309.10" y2="406.90" stroke="#231f20" stroke-width="0.9" />
<text x="309.10" y="415.80" font-size="6.0" text-anchor="middle" fill="#231f20" stroke="#231f20" stroke-width="0.100"  >10</text>
<line x1="322.15" y1="403.90" x2="322.15" y2="406.90" stroke="#231f20" stroke-width="0.9" />
<text x="322.15" y="415.80" font-size="6.0" text-anchor="middle" fill="#231f20" stroke="#231f20" stroke-width="0.100"  >15</text>
<line x1="335.20" y1="403.90" x2="335.20" y2="406.90" stroke="#231f20" stroke-width="0.9" />
<text x="335.20" y="415.80" font-size="6.0" text-anchor="middle" fill="#231f20" stroke="#231f20" stroke-width="0.100"  >20</text>
<line x1="348.25" y1="403.90" x2="348.25" y2="406.90" stroke="#231f20" stroke-width="0.9" />
<text x="348.25" y="415.80" font-size="6.0" text-anchor="middle" fill="#231f20" stroke="#231f20" stroke-width="0.100"  >25</text>
<line x1="361.30" y1="403.90" x2="361.30" y2="406.90" stroke="#231f20" stroke-width="0.9" />
<text x="361.30" y="415.80" font-size="6.0" text-anchor="middle" fill="#231f20" stroke="#231f20" stroke-width="0.100"  >30</text>
<line x1="374.35" y1="403.90" x2="374.35" y2="406.90" stroke="#231f20" stroke-width="0.9" />
<text x="374.35" y="415.80" font-size="6.0" text-anchor="middle" fill="#231f20" stroke="#231f20" stroke-width="0.100"  >35</text>
<line x1="387.40" y1="403.90" x2="387.40" y2="406.90" stroke="#231f20" stroke-width="0.9" />
<text x="387.40" y="415.80" font-size="6.0" text-anchor="middle" fill="#231f20" stroke="#231f20" stroke-width="0.100"  >40</text>
<line x1="400.45" y1="403.90" x2="400.45" y2="406.90" stroke="#231f20" stroke-width="0.9" />
<text x="400.45" y="415.80" font-size="6.0" text-anchor="middle" fill="#231f20" stroke="#231f20" stroke-width="0.100"  >45</text>
<line x1="413.50" y1="403.90" x2="413.50" y2="406.90" stroke="#231f20" stroke-width="0.9" />
<text x="413.50" y="415.80" font-size="6.0" text-anchor="middle" fill="#231f20" stroke="#231f20" stroke-width="0.100"  >50</text>
<line x1="426.55" y1="403.90" x2="426.55" y2="406.90" stroke="#231f20" stroke-width="0.9" />
<text x="426.55" y="415.80" font-size="6.0" text-anchor="middle" fill="#231f20" stroke="#231f20" stroke-width="0.100"  >55</text>
<line x1="439.60" y1="403.90" x2="439.60" y2="406.90" stroke="#231f20" stroke-width="0.9" />
<text x="439.60" y="415.80" font-size="6.0" text-anchor="middle" fill="#231f20" stroke="#231f20" stroke-width="0.100"  >60</text>
<line x1="452.65" y1="403.90" x2="452.65" y2="406.90" stroke="#231f20" stroke-width="0.9" />
<text x="452.65" y="415.80" font-size="6.0" text-anchor="middle" fill="#231f20" stroke="#231f20" stroke-width="0.100"  >65</text>
<line x1="465.70" y1="403.90" x2="465.70" y2="406.90" stroke="#231f20" stroke-width="0.9" />
<text x="465.70" y="415.80" font-size="6.0" text-anchor="middle" fill="#231f20" stroke="#231f20" stroke-width="0.100"  >70</text>
<text x="376.00" y="428.90" font-size="9.1" text-anchor="middle" fill="#231f20" stroke="#231f20" stroke-width="0.060" textLength="149.6" lengthAdjust="spacingAndGlyphs" >Time to death of secondary recipients (d)</text>
<text transform="translate(260.50,345.50) rotate(-90)" font-size="7.6" text-anchor="middle" fill="#231f20" stroke="#231f20" stroke-width="0.060" textLength="37.4" lengthAdjust="spacingAndGlyphs">% survival</text>
<text x="298.40" y="303.30" font-size="6.2" text-anchor="middle" fill="#231f20" stroke="#231f20" stroke-width="0.100" textLength="9.0" lengthAdjust="spacingAndGlyphs" >6 d</text>
<text x="301.50" y="399.70" font-size="6.2" text-anchor="middle" fill="#231f20" stroke="#231f20" stroke-width="0.100" textLength="14.0" lengthAdjust="spacingAndGlyphs" >n &#8805; 8</text>
<line x1="283.00" y1="307.80" x2="468.40" y2="307.80" stroke="#53709a" stroke-width="1.8" />
<polyline points="358.69,307.80 358.69,315.78 363.39,315.78 363.39,331.82 468.4,331.82" fill="none" stroke="#aa2640" stroke-width="1.4"/>
<polyline points="324.50,307.80 324.50,331.82 326.85,331.82 326.85,355.85 330.24,355.85 330.24,379.88 335.20,379.88 335.20,403.90" fill="none" stroke="#aa2640" stroke-width="1.35" stroke-dasharray="3.4,2.4"/>
<polyline points="335.20,307.80 335.20,379.88 337.55,379.88 337.55,403.90" fill="none" stroke="#53709a" stroke-width="1.35" stroke-dasharray="3.4,2.4"/>
<line x1="401.20" y1="354.50" x2="415.80" y2="354.50" stroke="#aa2640" stroke-width="1.5" stroke-dasharray="3.0,2.2"/>
<line x1="401.20" y1="361.90" x2="415.80" y2="361.90" stroke="#aa2640" stroke-width="1.5" />
<line x1="401.20" y1="369.90" x2="415.80" y2="369.90" stroke="#53709a" stroke-width="1.5" stroke-dasharray="3.0,2.2"/>
<line x1="401.20" y1="377.80" x2="415.80" y2="377.80" stroke="#53709a" stroke-width="1.5" />
<text x="419.30" y="356.70" font-size="6.5" text-anchor="start" fill="#231f20" stroke="#231f20" stroke-width="0.100" textLength="19.5" lengthAdjust="spacingAndGlyphs" >P/R_UT</text>
<text x="419.30" y="364.10" font-size="6.5" text-anchor="start" fill="#231f20" stroke="#231f20" stroke-width="0.100" textLength="28.8" lengthAdjust="spacingAndGlyphs" >P/R_RA/As</text>
<text x="419.30" y="372.10" font-size="6.5" text-anchor="start" fill="#231f20" stroke="#231f20" stroke-width="0.100" textLength="21.9" lengthAdjust="spacingAndGlyphs" >P/R-FLT3</text>
<text x="441.40" y="372.50" font-size="3.4" text-anchor="start" fill="#444" stroke="#444" stroke-width="0.100" textLength="3.6" lengthAdjust="spacingAndGlyphs" >ITD</text>
<text x="445.00" y="372.10" font-size="6.5" text-anchor="start" fill="#231f20" stroke="#231f20" stroke-width="0.100" textLength="9.2" lengthAdjust="spacingAndGlyphs" >_UT</text>
<text x="419.30" y="380.00" font-size="6.5" text-anchor="start" fill="#231f20" stroke="#231f20" stroke-width="0.100" textLength="21.9" lengthAdjust="spacingAndGlyphs" >P/R-FLT3</text>
<text x="441.40" y="380.40" font-size="3.4" text-anchor="start" fill="#444" stroke="#444" stroke-width="0.100" textLength="3.6" lengthAdjust="spacingAndGlyphs" >ITD</text>
<text x="445.00" y="380.00" font-size="6.5" text-anchor="start" fill="#231f20" stroke="#231f20" stroke-width="0.100" textLength="22.0" lengthAdjust="spacingAndGlyphs" >_RA/As</text>
<text x="8.40" y="468.50" font-size="11" text-anchor="start" fill="#000" stroke="#000" stroke-width="0.050"  >D</text>
<line x1="53.70" y1="475.10" x2="53.70" y2="590.70" stroke="#231f20" stroke-width="1.15" />
<line x1="53.70" y1="587.90" x2="180.50" y2="587.90" stroke="#231f20" stroke-width="1.2" />
<line x1="50.50" y1="587.90" x2="53.70" y2="587.90" stroke="#231f20" stroke-width="0.9" />
<text x="47.90" y="589.95" font-size="5.9" text-anchor="end" fill="#231f20" stroke="#231f20" stroke-width="0.100"  >0</text>
<line x1="50.50" y1="569.40" x2="53.70" y2="569.40" stroke="#231f20" stroke-width="0.9" />
<text x="47.90" y="571.45" font-size="5.9" text-anchor="end" fill="#231f20" stroke="#231f20" stroke-width="0.100"  >200</text>
<line x1="50.50" y1="550.90" x2="53.70" y2="550.90" stroke="#231f20" stroke-width="0.9" />
<text x="47.90" y="552.95" font-size="5.9" text-anchor="end" fill="#231f20" stroke="#231f20" stroke-width="0.100"  >400</text>
<line x1="50.50" y1="532.40" x2="53.70" y2="532.40" stroke="#231f20" stroke-width="0.9" />
<text x="47.90" y="534.45" font-size="5.9" text-anchor="end" fill="#231f20" stroke="#231f20" stroke-width="0.100"  >600</text>
<line x1="50.50" y1="513.90" x2="53.70" y2="513.90" stroke="#231f20" stroke-width="0.9" />
<text x="47.90" y="515.95" font-size="5.9" text-anchor="end" fill="#231f20" stroke="#231f20" stroke-width="0.100"  >800</text>
<line x1="50.50" y1="495.40" x2="53.70" y2="495.40" stroke="#231f20" stroke-width="0.9" />
<text x="47.90" y="497.45" font-size="5.9" text-anchor="end" fill="#231f20" stroke="#231f20" stroke-width="0.100"  >1000</text>
<line x1="50.50" y1="476.90" x2="53.70" y2="476.90" stroke="#231f20" stroke-width="0.9" />
<text x="47.90" y="478.95" font-size="5.9" text-anchor="end" fill="#231f20" stroke="#231f20" stroke-width="0.100"  >1200</text>
<line x1="53.60" y1="587.90" x2="53.60" y2="590.70" stroke="#231f20" stroke-width="0.9" />
<line x1="115.40" y1="587.90" x2="115.40" y2="590.70" stroke="#231f20" stroke-width="0.9" />
<line x1="178.70" y1="587.90" x2="178.70" y2="590.70" stroke="#231f20" stroke-width="0.9" />
<rect x="66.50" y="522.50" width="17.90" height="65.40" fill="#9c90b6" stroke="#8b80a8" stroke-width="0.6"/>
<rect x="84.40" y="572.64" width="18.30" height="15.26" fill="#656972" stroke="#4f535b" stroke-width="0.6"/>
<rect x="129.30" y="504.65" width="17.80" height="83.25" fill="#9c90b6" stroke="#8b80a8" stroke-width="0.6"/>
<rect x="147.10" y="531.29" width="18.20" height="56.61" fill="#656972" stroke="#4f535b" stroke-width="0.6"/>
<line x1="75.40" y1="522.50" x2="75.40" y2="478.75" stroke="#231f20" stroke-width="0.8" />
<line x1="73.90" y1="478.75" x2="76.90" y2="478.75" stroke="#231f20" stroke-width="0.9" />
<line x1="93.50" y1="572.64" x2="93.50" y2="569.58" stroke="#231f20" stroke-width="0.8" />
<line x1="92.00" y1="569.58" x2="95.00" y2="569.58" stroke="#231f20" stroke-width="0.9" />
<line x1="138.20" y1="504.65" x2="138.20" y2="499.56" stroke="#231f20" stroke-width="0.8" />
<line x1="136.70" y1="499.56" x2="139.70" y2="499.56" stroke="#231f20" stroke-width="0.9" />
<line x1="156.20" y1="531.29" x2="156.20" y2="515.01" stroke="#231f20" stroke-width="0.8" />
<line x1="154.70" y1="515.01" x2="157.70" y2="515.01" stroke="#231f20" stroke-width="0.9" />
<text transform="translate(28.60,531.55) rotate(-90)" font-size="8.0" text-anchor="middle" fill="#231f20" stroke="#231f20" stroke-width="0.060" textLength="70.7" lengthAdjust="spacingAndGlyphs">Spleen weight (mg)</text>
<text x="76.45" y="603.50" font-size="6.1" text-anchor="start" fill="#231f20" stroke="#231f20" stroke-width="0.100" textLength="10.7" lengthAdjust="spacingAndGlyphs" >Pml</text>
<text x="87.45" y="599.90" font-size="3.0" text-anchor="start" fill="#555" stroke="#555" stroke-width="0.100" textLength="6.0" lengthAdjust="spacingAndGlyphs" >+/+</text>
<text x="84.85" y="611.30" font-size="6.2" text-anchor="middle" fill="#231f20" stroke="#231f20" stroke-width="0.100" textLength="26.3" lengthAdjust="spacingAndGlyphs" >P/RC212S</text>
<text x="139.95" y="603.50" font-size="6.1" text-anchor="start" fill="#231f20" stroke="#231f20" stroke-width="0.100" textLength="10.7" lengthAdjust="spacingAndGlyphs" >Pml</text>
<text x="150.95" y="599.90" font-size="3.0" text-anchor="start" fill="#555" stroke="#555" stroke-width="0.100" textLength="4.6" lengthAdjust="spacingAndGlyphs" >-/-</text>
<text x="147.25" y="611.30" font-size="6.2" text-anchor="middle" fill="#231f20" stroke="#231f20" stroke-width="0.100" textLength="26.3" lengthAdjust="spacingAndGlyphs" >P/RC212S</text>
<line x1="216.90" y1="474.70" x2="216.90" y2="590.70" stroke="#231f20" stroke-width="1.15" />
<line x1="216.90" y1="587.90" x2="343.50" y2="587.90" stroke="#231f20" stroke-width="1.2" />
<line x1="213.70" y1="587.90" x2="216.90" y2="587.90" stroke="#231f20" stroke-width="0.9" />
<text x="211.10" y="589.95" font-size="5.9" text-anchor="end" fill="#231f20" stroke="#231f20" stroke-width="0.100"  >0</text>
<line x1="213.70" y1="569.55" x2="216.90" y2="569.55" stroke="#231f20" stroke-width="0.9" />
<text x="211.10" y="571.60" font-size="5.9" text-anchor="end" fill="#231f20" stroke="#231f20" stroke-width="0.100"  >10</text>
<line x1="213.70" y1="551.20" x2="216.90" y2="551.20" stroke="#231f20" stroke-width="0.9" />
<text x="211.10" y="553.25" font-size="5.9" text-anchor="end" fill="#231f20" stroke="#231f20" stroke-width="0.100"  >20</text>
<line x1="213.70" y1="532.85" x2="216.90" y2="532.85" stroke="#231f20" stroke-width="0.9" />
<text x="211.10" y="534.90" font-size="5.9" text-anchor="end" fill="#231f20" stroke="#231f20" stroke-width="0.100"  >30</text>
<line x1="213.70" y1="514.50" x2="216.90" y2="514.50" stroke="#231f20" stroke-width="0.9" />
<text x="211.10" y="516.55" font-size="5.9" text-anchor="end" fill="#231f20" stroke="#231f20" stroke-width="0.100"  >40</text>
<line x1="213.70" y1="496.15" x2="216.90" y2="496.15" stroke="#231f20" stroke-width="0.9" />
<text x="211.10" y="498.20" font-size="5.9" text-anchor="end" fill="#231f20" stroke="#231f20" stroke-width="0.100"  >50</text>
<line x1="213.70" y1="477.80" x2="216.90" y2="477.80" stroke="#231f20" stroke-width="0.9" />
<text x="211.10" y="479.85" font-size="5.9" text-anchor="end" fill="#231f20" stroke="#231f20" stroke-width="0.100"  >60</text>
<line x1="216.70" y1="587.90" x2="216.70" y2="590.70" stroke="#231f20" stroke-width="0.9" />
<line x1="279.50" y1="587.90" x2="279.50" y2="590.70" stroke="#231f20" stroke-width="0.9" />
<line x1="342.50" y1="587.90" x2="342.50" y2="590.70" stroke="#231f20" stroke-width="0.9" />
<rect x="230.20" y="552.85" width="17.80" height="35.05" fill="#9c90b6" stroke="#8b80a8" stroke-width="0.6"/>
<rect x="248.00" y="487.89" width="18.00" height="100.01" fill="#656972" stroke="#4f535b" stroke-width="0.6"/>
<rect x="292.90" y="563.68" width="18.10" height="24.22" fill="#9c90b6" stroke="#8b80a8" stroke-width="0.6"/>
<rect x="311.00" y="547.71" width="18.00" height="40.19" fill="#656972" stroke="#4f535b" stroke-width="0.6"/>
<line x1="239.10" y1="552.85" x2="239.10" y2="538.36" stroke="#231f20" stroke-width="0.8" />
<line x1="237.60" y1="538.36" x2="240.60" y2="538.36" stroke="#231f20" stroke-width="0.9" />
<line x1="257.00" y1="487.89" x2="257.00" y2="483.67" stroke="#231f20" stroke-width="0.8" />
<line x1="255.50" y1="483.67" x2="258.50" y2="483.67" stroke="#231f20" stroke-width="0.9" />
<line x1="301.90" y1="563.68" x2="301.90" y2="554.32" stroke="#231f20" stroke-width="0.8" />
<line x1="300.40" y1="554.32" x2="303.40" y2="554.32" stroke="#231f20" stroke-width="0.9" />
<line x1="320.00" y1="547.71" x2="320.00" y2="542.58" stroke="#231f20" stroke-width="0.8" />
<line x1="318.50" y1="542.58" x2="321.50" y2="542.58" stroke="#231f20" stroke-width="0.9" />
<text transform="translate(197.90,531.85) rotate(-90)" font-size="8.0" text-anchor="middle" fill="#231f20" stroke="#231f20" stroke-width="0.060" textLength="65.0" lengthAdjust="spacingAndGlyphs">CD11b+/Gr1+ (%)</text>
<text x="239.60" y="603.50" font-size="6.1" text-anchor="start" fill="#231f20" stroke="#231f20" stroke-width="0.100" textLength="10.7" lengthAdjust="spacingAndGlyphs" >Pml</text>
<text x="250.60" y="599.90" font-size="3.0" text-anchor="start" fill="#555" stroke="#555" stroke-width="0.100" textLength="6.0" lengthAdjust="spacingAndGlyphs" >+/+</text>
<text x="248.00" y="611.30" font-size="6.2" text-anchor="middle" fill="#231f20" stroke="#231f20" stroke-width="0.100" textLength="26.3" lengthAdjust="spacingAndGlyphs" >P/RC212S</text>
<text x="303.70" y="603.50" font-size="6.1" text-anchor="start" fill="#231f20" stroke="#231f20" stroke-width="0.100" textLength="10.7" lengthAdjust="spacingAndGlyphs" >Pml</text>
<text x="314.70" y="599.90" font-size="3.0" text-anchor="start" fill="#555" stroke="#555" stroke-width="0.100" textLength="4.6" lengthAdjust="spacingAndGlyphs" >-/-</text>
<text x="311.00" y="611.30" font-size="6.2" text-anchor="middle" fill="#231f20" stroke="#231f20" stroke-width="0.100" textLength="26.3" lengthAdjust="spacingAndGlyphs" >P/RC212S</text>
<line x1="380.60" y1="474.70" x2="380.60" y2="590.70" stroke="#231f20" stroke-width="1.15" />
<line x1="380.60" y1="587.90" x2="505.50" y2="587.90" stroke="#231f20" stroke-width="1.2" />
<line x1="377.40" y1="587.90" x2="380.60" y2="587.90" stroke="#231f20" stroke-width="0.9" />
<text x="374.80" y="589.95" font-size="5.9" text-anchor="end" fill="#231f20" stroke="#231f20" stroke-width="0.100"  >0</text>
<line x1="377.40" y1="574.13" x2="380.60" y2="574.13" stroke="#231f20" stroke-width="0.9" />
<text x="374.80" y="576.18" font-size="5.9" text-anchor="end" fill="#231f20" stroke="#231f20" stroke-width="0.100"  >10</text>
<line x1="377.40" y1="560.36" x2="380.60" y2="560.36" stroke="#231f20" stroke-width="0.9" />
<text x="374.80" y="562.41" font-size="5.9" text-anchor="end" fill="#231f20" stroke="#231f20" stroke-width="0.100"  >20</text>
<line x1="377.40" y1="546.59" x2="380.60" y2="546.59" stroke="#231f20" stroke-width="0.9" />
<text x="374.80" y="548.64" font-size="5.9" text-anchor="end" fill="#231f20" stroke="#231f20" stroke-width="0.100"  >30</text>
<line x1="377.40" y1="532.82" x2="380.60" y2="532.82" stroke="#231f20" stroke-width="0.9" />
<text x="374.80" y="534.87" font-size="5.9" text-anchor="end" fill="#231f20" stroke="#231f20" stroke-width="0.100"  >40</text>
<line x1="377.40" y1="519.05" x2="380.60" y2="519.05" stroke="#231f20" stroke-width="0.9" />
<text x="374.80" y="521.10" font-size="5.9" text-anchor="end" fill="#231f20" stroke="#231f20" stroke-width="0.100"  >50</text>
<line x1="377.40" y1="505.28" x2="380.60" y2="505.28" stroke="#231f20" stroke-width="0.9" />
<text x="374.80" y="507.33" font-size="5.9" text-anchor="end" fill="#231f20" stroke="#231f20" stroke-width="0.100"  >60</text>
<line x1="377.40" y1="491.51" x2="380.60" y2="491.51" stroke="#231f20" stroke-width="0.9" />
<text x="374.80" y="493.56" font-size="5.9" text-anchor="end" fill="#231f20" stroke="#231f20" stroke-width="0.100"  >70</text>
<line x1="377.40" y1="477.74" x2="380.60" y2="477.74" stroke="#231f20" stroke-width="0.9" />
<text x="374.80" y="479.79" font-size="5.9" text-anchor="end" fill="#231f20" stroke="#231f20" stroke-width="0.100"  >80</text>
<line x1="381.30" y1="587.90" x2="381.30" y2="590.70" stroke="#231f20" stroke-width="0.9" />
<line x1="442.70" y1="587.90" x2="442.70" y2="590.70" stroke="#231f20" stroke-width="0.9" />
<line x1="505.20" y1="587.90" x2="505.20" y2="590.70" stroke="#231f20" stroke-width="0.9" />
<rect x="393.60" y="507.21" width="18.20" height="80.69" fill="#9c90b6" stroke="#8b80a8" stroke-width="0.6"/>
<rect x="411.80" y="552.37" width="18.00" height="35.53" fill="#656972" stroke="#4f535b" stroke-width="0.6"/>
<rect x="456.20" y="497.02" width="18.00" height="90.88" fill="#9c90b6" stroke="#8b80a8" stroke-width="0.6"/>
<rect x="474.20" y="499.08" width="18.10" height="88.82" fill="#656972" stroke="#4f535b" stroke-width="0.6"/>
<line x1="402.70" y1="507.21" x2="402.70" y2="492.89" stroke="#231f20" stroke-width="0.8" />
<line x1="401.20" y1="492.89" x2="404.20" y2="492.89" stroke="#231f20" stroke-width="0.9" />
<line x1="420.80" y1="552.37" x2="420.80" y2="543.84" stroke="#231f20" stroke-width="0.8" />
<line x1="419.30" y1="543.84" x2="422.30" y2="543.84" stroke="#231f20" stroke-width="0.9" />
<line x1="465.20" y1="497.02" x2="465.20" y2="492.89" stroke="#231f20" stroke-width="0.8" />
<line x1="463.70" y1="492.89" x2="466.70" y2="492.89" stroke="#231f20" stroke-width="0.9" />
<line x1="483.20" y1="499.08" x2="483.20" y2="481.87" stroke="#231f20" stroke-width="0.8" />
<line x1="481.70" y1="481.87" x2="484.70" y2="481.87" stroke="#231f20" stroke-width="0.9" />
<text transform="translate(362.00,533.90) rotate(-90)" font-size="8.0" text-anchor="middle" fill="#231f20" stroke="#231f20" stroke-width="0.060" textLength="61.0" lengthAdjust="spacingAndGlyphs">GFP+ cells  (%)</text>
<text x="402.80" y="603.50" font-size="6.1" text-anchor="start" fill="#231f20" stroke="#231f20" stroke-width="0.100" textLength="10.7" lengthAdjust="spacingAndGlyphs" >Pml</text>
<text x="413.80" y="599.90" font-size="3.0" text-anchor="start" fill="#555" stroke="#555" stroke-width="0.100" textLength="6.0" lengthAdjust="spacingAndGlyphs" >+/+</text>
<text x="411.20" y="611.30" font-size="6.2" text-anchor="middle" fill="#231f20" stroke="#231f20" stroke-width="0.100" textLength="26.3" lengthAdjust="spacingAndGlyphs" >P/RC212S</text>
<text x="466.80" y="603.50" font-size="6.1" text-anchor="start" fill="#231f20" stroke="#231f20" stroke-width="0.100" textLength="10.7" lengthAdjust="spacingAndGlyphs" >Pml</text>
<text x="477.80" y="599.90" font-size="3.0" text-anchor="start" fill="#555" stroke="#555" stroke-width="0.100" textLength="4.6" lengthAdjust="spacingAndGlyphs" >-/-</text>
<text x="474.10" y="611.30" font-size="6.2" text-anchor="middle" fill="#231f20" stroke="#231f20" stroke-width="0.100" textLength="26.3" lengthAdjust="spacingAndGlyphs" >P/RC212S</text>
<rect x="383.00" y="478.30" width="4.80" height="3.80" fill="#9c90b6" />
<text x="390.70" y="482.30" font-size="4.6" text-anchor="start" fill="#999" stroke="#999" stroke-width="0.100" textLength="5.3" lengthAdjust="spacingAndGlyphs" >UT</text>
<rect x="401.20" y="478.30" width="4.60" height="3.80" fill="#656972" />
<text x="409.00" y="482.30" font-size="4.6" text-anchor="start" fill="#999" stroke="#999" stroke-width="0.100" textLength="3.9" lengthAdjust="spacingAndGlyphs" >As</text>
<path d="M0.7 0V620 M0 0.65H520" stroke="#4b4b49" stroke-width="1.4" fill="none"/>
<path d="M519.3 0V620" stroke="#4b4b49" stroke-width="1.4" fill="none"/>
<path d="M0 619.4H520" stroke="#0a0a0a" stroke-width="1.2" fill="none"/>
</svg></div></body></html>
